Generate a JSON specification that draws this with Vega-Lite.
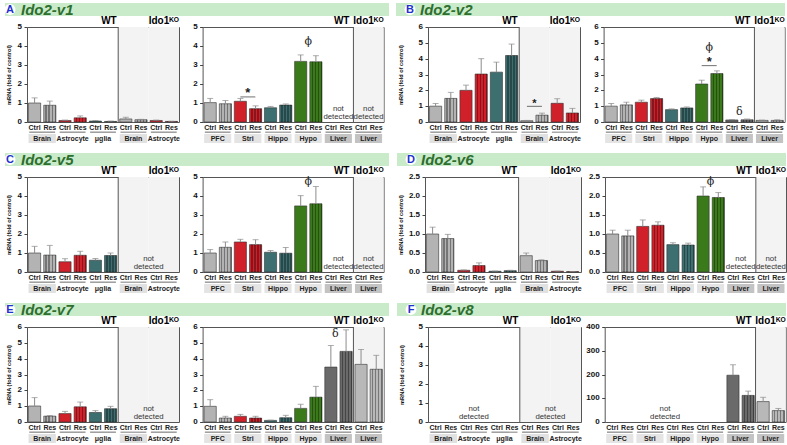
{
"$schema":"https://vega.github.io/schema/vega-lite/v6.json",
"padding":{"left":4,"top":2,"right":0,"bottom":0},
"config":{"font":"Liberation Sans","view":{"stroke":null},
 "axisY":{"tickCount":5,"labelOverlap":false,"tickSize":3,"tickColor":"#444","domain":false,"grid":false,"labelPadding":2,"titleFontSize":5.6,"titleFontWeight":"bold","titleColor":"#111"}},
"datasets":{
 "yl5":[{"g":"WT Brain","t":0},{"g":"WT Brain","t":1},{"g":"WT Brain","t":2},{"g":"WT Brain","t":3},{"g":"WT Brain","t":4},{"g":"WT Brain","t":5}],
 "yl6":[{"g":"WT Brain","t":0},{"g":"WT Brain","t":1},{"g":"WT Brain","t":2},{"g":"WT Brain","t":3},{"g":"WT Brain","t":4},{"g":"WT Brain","t":5},{"g":"WT Brain","t":6}],
 "yl25":[{"g":"WT Brain","t":0},{"g":"WT Brain","t":0.5},{"g":"WT Brain","t":1},{"g":"WT Brain","t":1.5},{"g":"WT Brain","t":2},{"g":"WT Brain","t":2.5}],
 "yr5":[{"g":"WT PFC","t":0},{"g":"WT PFC","t":1},{"g":"WT PFC","t":2},{"g":"WT PFC","t":3},{"g":"WT PFC","t":4},{"g":"WT PFC","t":5}],
 "yr6":[{"g":"WT PFC","t":0},{"g":"WT PFC","t":1},{"g":"WT PFC","t":2},{"g":"WT PFC","t":3},{"g":"WT PFC","t":4},{"g":"WT PFC","t":5},{"g":"WT PFC","t":6}],
 "yr25":[{"g":"WT PFC","t":0},{"g":"WT PFC","t":0.5},{"g":"WT PFC","t":1},{"g":"WT PFC","t":1.5},{"g":"WT PFC","t":2},{"g":"WT PFC","t":2.5}],
 "yr400":[{"g":"WT PFC","t":0},{"g":"WT PFC","t":100},{"g":"WT PFC","t":200},{"g":"WT PFC","t":300},{"g":"WT PFC","t":400}],
 "sl":[{"g":"WT Brain","t":"Brain","c":"Ctrl"},{"g":"WT Brain","t":"Brain","c":"Res"},{"g":"WT Astrocyte","t":"Astrocyte","c":"Ctrl"},{"g":"WT Astrocyte","t":"Astrocyte","c":"Res"},{"g":"WT μglia","t":"μglia","c":"Ctrl"},{"g":"WT μglia","t":"μglia","c":"Res"},{"g":"KO Brain","t":"Brain","c":"Ctrl"},{"g":"KO Brain","t":"Brain","c":"Res"},{"g":"KO Astrocyte","t":"Astrocyte","c":"Ctrl"},{"g":"KO Astrocyte","t":"Astrocyte","c":"Res"}],
 "sr":[{"g":"WT PFC","t":"PFC","c":"Ctrl"},{"g":"WT PFC","t":"PFC","c":"Res"},{"g":"WT Stri","t":"Stri","c":"Ctrl"},{"g":"WT Stri","t":"Stri","c":"Res"},{"g":"WT Hippo","t":"Hippo","c":"Ctrl"},{"g":"WT Hippo","t":"Hippo","c":"Res"},{"g":"WT Hypo","t":"Hypo","c":"Ctrl"},{"g":"WT Hypo","t":"Hypo","c":"Res"},{"g":"WT Liver","t":"Liver","c":"Ctrl"},{"g":"WT Liver","t":"Liver","c":"Res"},{"g":"KO Liver","t":"Liver","c":"Ctrl"},{"g":"KO Liver","t":"Liver","c":"Res"}],
 "a1":[{"g":"WT Brain","c":"Ctrl","v":1.0,"hi":1.27},{"g":"WT Brain","c":"Res","v":0.88,"hi":1.1},{"g":"WT Astrocyte","c":"Ctrl","v":0.08,"hi":0.1},{"g":"WT Astrocyte","c":"Res","v":0.22,"hi":0.32},{"g":"WT μglia","c":"Ctrl","v":0.05,"hi":0.08},{"g":"WT μglia","c":"Res","v":0.03,"hi":0.05},{"g":"KO Brain","c":"Ctrl","v":0.16,"hi":0.25},{"g":"KO Brain","c":"Res","v":0.12,"hi":0.14},{"g":"KO Astrocyte","c":"Ctrl","v":0.08,"hi":0.1},{"g":"KO Astrocyte","c":"Res","v":0.03,"hi":0.04}],
 "a2":[{"g":"WT PFC","c":"Ctrl","v":1.02,"hi":1.24},{"g":"WT PFC","c":"Res","v":0.96,"hi":1.13},{"g":"WT Stri","c":"Ctrl","v":1.09,"hi":1.24},{"g":"WT Stri","c":"Res","v":0.7,"hi":0.85},{"g":"WT Hippo","c":"Ctrl","v":0.75,"hi":0.82},{"g":"WT Hippo","c":"Res","v":0.89,"hi":0.95},{"g":"WT Hypo","c":"Ctrl","v":3.19,"hi":3.53},{"g":"WT Hypo","c":"Res","v":3.17,"hi":3.49}],
 "b1":[{"g":"WT Brain","c":"Ctrl","v":1.0,"hi":1.17},{"g":"WT Brain","c":"Res","v":1.49,"hi":1.87},{"g":"WT Astrocyte","c":"Ctrl","v":2.0,"hi":2.33},{"g":"WT Astrocyte","c":"Res","v":3.03,"hi":4.0},{"g":"WT μglia","c":"Ctrl","v":3.15,"hi":3.78},{"g":"WT μglia","c":"Res","v":4.2,"hi":4.92},{"g":"KO Brain","c":"Ctrl","v":0.08,"hi":0.1},{"g":"KO Brain","c":"Res","v":0.43,"hi":0.56},{"g":"KO Astrocyte","c":"Ctrl","v":1.18,"hi":1.47},{"g":"KO Astrocyte","c":"Res","v":0.57,"hi":0.86}],
 "b2":[{"g":"WT PFC","c":"Ctrl","v":1.0,"hi":1.17},{"g":"WT PFC","c":"Res","v":1.08,"hi":1.25},{"g":"WT Stri","c":"Ctrl","v":1.25,"hi":1.38},{"g":"WT Stri","c":"Res","v":1.48,"hi":1.55},{"g":"WT Hippo","c":"Ctrl","v":0.78,"hi":0.83},{"g":"WT Hippo","c":"Res","v":0.89,"hi":0.95},{"g":"WT Hypo","c":"Ctrl","v":2.4,"hi":2.64},{"g":"WT Hypo","c":"Res","v":3.06,"hi":3.23},{"g":"WT Liver","c":"Ctrl","v":0.13,"hi":0.15},{"g":"WT Liver","c":"Res","v":0.14,"hi":0.19},{"g":"KO Liver","c":"Ctrl","v":0.1,"hi":0.12},{"g":"KO Liver","c":"Res","v":0.1,"hi":0.14}],
 "c1":[{"g":"WT Brain","c":"Ctrl","v":1.0,"hi":1.35},{"g":"WT Brain","c":"Res","v":0.89,"hi":1.4},{"g":"WT Astrocyte","c":"Ctrl","v":0.54,"hi":0.7},{"g":"WT Astrocyte","c":"Res","v":0.88,"hi":1.09},{"g":"WT μglia","c":"Ctrl","v":0.62,"hi":0.71},{"g":"WT μglia","c":"Res","v":0.87,"hi":1.0}],
 "c2":[{"g":"WT PFC","c":"Ctrl","v":1.0,"hi":1.18},{"g":"WT PFC","c":"Res","v":1.3,"hi":1.58},{"g":"WT Stri","c":"Ctrl","v":1.58,"hi":1.72},{"g":"WT Stri","c":"Res","v":1.44,"hi":1.7},{"g":"WT Hippo","c":"Ctrl","v":1.04,"hi":1.13},{"g":"WT Hippo","c":"Res","v":0.99,"hi":1.29},{"g":"WT Hypo","c":"Ctrl","v":3.48,"hi":4.02},{"g":"WT Hypo","c":"Res","v":3.59,"hi":4.5}],
 "d1":[{"g":"WT Brain","c":"Ctrl","v":1.0,"hi":1.18},{"g":"WT Brain","c":"Res","v":0.88,"hi":0.99},{"g":"WT Astrocyte","c":"Ctrl","v":0.045,"hi":0.055},{"g":"WT Astrocyte","c":"Res","v":0.17,"hi":0.24},{"g":"WT μglia","c":"Ctrl","v":0.02,"hi":0.025},{"g":"WT μglia","c":"Res","v":0.035,"hi":0.045},{"g":"KO Brain","c":"Ctrl","v":0.43,"hi":0.5},{"g":"KO Brain","c":"Res","v":0.3,"hi":0.32},{"g":"KO Astrocyte","c":"Ctrl","v":0.02,"hi":0.025},{"g":"KO Astrocyte","c":"Res","v":0.01,"hi":0.012}],
 "d2":[{"g":"WT PFC","c":"Ctrl","v":1.0,"hi":1.1},{"g":"WT PFC","c":"Res","v":0.95,"hi":1.1},{"g":"WT Stri","c":"Ctrl","v":1.2,"hi":1.37},{"g":"WT Stri","c":"Res","v":1.23,"hi":1.32},{"g":"WT Hippo","c":"Ctrl","v":0.72,"hi":0.77},{"g":"WT Hippo","c":"Res","v":0.71,"hi":0.76},{"g":"WT Hypo","c":"Ctrl","v":2.0,"hi":2.24},{"g":"WT Hypo","c":"Res","v":1.96,"hi":2.09}],
 "e1":[{"g":"WT Brain","c":"Ctrl","v":1.01,"hi":1.54},{"g":"WT Brain","c":"Res","v":0.37,"hi":0.41},{"g":"WT Astrocyte","c":"Ctrl","v":0.53,"hi":0.67},{"g":"WT Astrocyte","c":"Res","v":0.96,"hi":1.26},{"g":"WT μglia","c":"Ctrl","v":0.6,"hi":0.72},{"g":"WT μglia","c":"Res","v":0.84,"hi":0.99}],
 "e2":[{"g":"WT PFC","c":"Ctrl","v":0.99,"hi":1.41},{"g":"WT PFC","c":"Res","v":0.25,"hi":0.36},{"g":"WT Stri","c":"Ctrl","v":0.36,"hi":0.48},{"g":"WT Stri","c":"Res","v":0.25,"hi":0.36},{"g":"WT Hippo","c":"Ctrl","v":0.1,"hi":0.12},{"g":"WT Hippo","c":"Res","v":0.27,"hi":0.42},{"g":"WT Hypo","c":"Ctrl","v":0.86,"hi":1.12},{"g":"WT Hypo","c":"Res","v":1.57,"hi":2.25},{"g":"WT Liver","c":"Ctrl","v":3.47,"hi":4.83},{"g":"WT Liver","c":"Res","v":4.46,"hi":5.82},{"g":"KO Liver","c":"Ctrl","v":3.64,"hi":4.58},{"g":"KO Liver","c":"Res","v":3.33,"hi":4.21}],
 "f2":[{"g":"WT Liver","c":"Ctrl","v":197,"hi":241},{"g":"WT Liver","c":"Res","v":112,"hi":130},{"g":"KO Liver","c":"Ctrl","v":86,"hi":104},{"g":"KO Liver","c":"Res","v":48,"hi":57}]
},
"bounds":"full","spacing":8,
"vconcat":[
{"hconcat":[
 {"vconcat":[
  {"width":362,"height":13,"data":{"values":[{"l":"A","n":"Ido2-v1"}]},"encoding":{"x":{"datum":0,"type":"quantitative","scale":{"domain":[0,1]},"axis":null},"y":{"datum":0.5,"type":"quantitative","scale":{"domain":[0,1]},"axis":null}},
   "layer":[{"mark":{"type":"rect","color":"#c9ebc9"},"encoding":{"x":{"datum":-0.0608,"type":"quantitative","axis":null},"x2":{"datum":1},"y":{"datum":0,"type":"quantitative","axis":null},"y2":{"datum":1}}},{"mark":{"type":"point","shape":"circle","filled":true,"color":"white","opacity":1,"size":120},"encoding":{"x":{"datum":-0.047,"type":"quantitative","axis":null}}},{"mark":{"type":"text","color":"#1f32d0","fontSize":11,"fontWeight":"bold","dx":-17},"encoding":{"text":{"field":"l"}}},{"mark":{"type":"text","align":"left","color":"#2e6e2e","fontSize":15,"fontWeight":"bold","fontStyle":"italic","dx":-6},"encoding":{"text":{"field":"n"}}}]},
  {"hconcat":[
   {"vconcat":[
    {"width":152,"height":95,"view":{"stroke":"#555"},"encoding":{"x":{"field":"g","type":"nominal","scale":{"domain":["WT Brain","WT Astrocyte","WT μglia","KO Brain","KO Astrocyte"],"paddingInner":0,"paddingOuter":0},"axis":null}},
     "layer":[
      {"data":{"values":[{"g":"KO Brain"},{"g":"KO Astrocyte"}]},"mark":{"type":"rect","color":"#f3f3f3"},"encoding":{"y":{"datum":0,"type":"quantitative","scale":{"domain":[0,5],"nice":false},"axis":{"labels":false,"title":"mRNA (fold of control)","titlePadding":12.5}},"y2":{"datum":5}}},
      {"data":{"name":"yl5"},"mark":{"type":"text","align":"right","baseline":"middle","dx":-5,"fontSize":8,"fontWeight":"bold","fill":"#111"},"encoding":{"x":{"field":"g","type":"nominal","bandPosition":0,"axis":null},"y":{"field":"t","type":"quantitative"},"text":{"field":"t","type":"quantitative"}}},
      {"data":{"values":[{"g":"KO Brain"}]},"mark":{"type":"rule","color":"#555"},"encoding":{"x":{"field":"g","type":"nominal","bandPosition":0,"axis":null},"y":{"datum":0,"type":"quantitative"},"y2":{"datum":5}}},
      {"data":{"name":"a1"},"mark":{"type":"bar","stroke":"#333","strokeWidth":0.6},"encoding":{"xOffset":{"field":"c","type":"nominal","scale":{"paddingInner":0.2,"paddingOuter":0.1}},"y":{"field":"v","type":"quantitative"},"color":{"field":"g","type":"nominal","scale":{"domain":["WT Brain","WT Astrocyte","WT μglia","KO Brain","KO Astrocyte","WT PFC","WT Stri","WT Hippo","WT Hypo","WT Liver","KO Liver"],"range":["#b3b3b3","#d0202a","#3d6f70","#b3b3b3","#d0202a","#b3b3b3","#d0202a","#3d6f70","#3b7a1a","#6a6a6a","#b8b8b8"]},"legend":null}}},
      {"data":{"name":"a1"},"transform":[{"filter":"datum.c=='Res'"}],"mark":{"type":"bar","fill":{"gradient":"linear","x1":0,"y1":0,"x2":1,"y2":0,"stops":[{"offset":0,"color":"rgba(0,0,0,0)"},{"offset":0.14,"color":"rgba(0,0,0,0)"},{"offset":0.14,"color":"rgba(0,0,0,0.35)"},{"offset":0.25,"color":"rgba(0,0,0,0.35)"},{"offset":0.25,"color":"rgba(0,0,0,0)"},{"offset":0.39,"color":"rgba(0,0,0,0)"},{"offset":0.39,"color":"rgba(0,0,0,0.35)"},{"offset":0.5,"color":"rgba(0,0,0,0.35)"},{"offset":0.5,"color":"rgba(0,0,0,0)"},{"offset":0.64,"color":"rgba(0,0,0,0)"},{"offset":0.64,"color":"rgba(0,0,0,0.35)"},{"offset":0.75,"color":"rgba(0,0,0,0.35)"},{"offset":0.75,"color":"rgba(0,0,0,0)"},{"offset":0.89,"color":"rgba(0,0,0,0)"},{"offset":0.89,"color":"rgba(0,0,0,0.35)"},{"offset":1,"color":"rgba(0,0,0,0.35)"}]}},"encoding":{"xOffset":{"field":"c","type":"nominal"},"y":{"field":"v","type":"quantitative"}}},
      {"data":{"name":"a1"},"mark":{"type":"rule","color":"#8c8c8c"},"encoding":{"xOffset":{"field":"c","type":"nominal"},"y":{"field":"v","type":"quantitative"},"y2":{"field":"hi"}}},
      {"data":{"name":"a1"},"mark":{"type":"tick","color":"#8c8c8c","size":6,"thickness":1},"encoding":{"xOffset":{"field":"c","type":"nominal"},"y":{"field":"hi","type":"quantitative"}}},
      {"data":{"values":[{"g":"WT μglia"}]},"mark":{"type":"text","text":"WT","align":"right","baseline":"bottom","dx":-1.5,"dy":-1,"fontSize":10,"fontWeight":"bold","color":"#000"},"encoding":{"x":{"field":"g","type":"nominal","bandPosition":1,"axis":null},"y":{"datum":5,"type":"quantitative"}}},
      {"data":{"values":[{"g":"KO Astrocyte"}]},"mark":{"type":"text","text":"Ido1ᴷᴼ","align":"right","baseline":"bottom","dy":-1,"fontSize":10,"fontWeight":"bold","color":"#000"},"encoding":{"x":{"field":"g","type":"nominal","bandPosition":1,"axis":null},"y":{"datum":5,"type":"quantitative"}}}]},
    {"width":152,"height":22,"data":{"name":"sl"},"encoding":{"x":{"field":"g","type":"nominal","scale":{"domain":["WT Brain","WT Astrocyte","WT μglia","KO Brain","KO Astrocyte"],"paddingInner":0,"paddingOuter":0},"axis":null}},
     "layer":[
      {"transform":[{"filter":"datum.c=='Ctrl'"}],"mark":{"type":"bar","width":{"band":0.9}},"encoding":{"y":{"datum":0.455,"type":"quantitative","scale":{"domain":[0,1]},"axis":null},"y2":{"datum":0.045},"fill":{"field":"g","type":"nominal","scale":{"domain":["WT Brain","WT Astrocyte","WT μglia","KO Brain","KO Astrocyte","WT PFC","WT Stri","WT Hippo","WT Hypo","WT Liver","KO Liver"],"range":["#e1e1e1","#ffffff","#ffffff","#e1e1e1","#ffffff","#e4e4e4","#e4e4e4","#e4e4e4","#e4e4e4","#c3c3c3","#c3c3c3"]},"legend":null}}},
      {"transform":[{"filter":"datum.c=='Ctrl'"}],"mark":{"type":"bar","width":{"band":0.85},"color":"#555"},"encoding":{"y":{"datum":0.56,"type":"quantitative","axis":null},"y2":{"datum":0.52}}},
      {"mark":{"type":"text","fontSize":7,"fontWeight":"bold","color":"#222"},"encoding":{"xOffset":{"field":"c","type":"nominal","scale":{"paddingInner":0.2,"paddingOuter":0.1}},"y":{"datum":0.74,"type":"quantitative","axis":null},"text":{"field":"c"}}},
      {"transform":[{"filter":"datum.c=='Ctrl'"}],"mark":{"type":"text","fontSize":7,"fontWeight":"bold","color":"#222"},"encoding":{"y":{"datum":0.24,"type":"quantitative","axis":null},"text":{"field":"t"}}}]}
   ],"spacing":0,"bounds":"flush"},
   {"vconcat":[
    {"width":181,"height":95,"view":{"stroke":"#555"},"encoding":{"x":{"field":"g","type":"nominal","scale":{"domain":["WT PFC","WT Stri","WT Hippo","WT Hypo","WT Liver","KO Liver"],"paddingInner":0,"paddingOuter":0},"axis":null}},
     "layer":[
      {"data":{"values":[{"g":"KO Liver"}]},"mark":{"type":"rect","color":"#f3f3f3"},"encoding":{"y":{"datum":0,"type":"quantitative","scale":{"domain":[0,5],"nice":false},"axis":{"labels":false,"title":null}},"y2":{"datum":5}}},
      {"data":{"name":"yr5"},"mark":{"type":"text","align":"right","baseline":"middle","dx":-5,"fontSize":8,"fontWeight":"bold","fill":"#111"},"encoding":{"x":{"field":"g","type":"nominal","bandPosition":0,"axis":null},"y":{"field":"t","type":"quantitative"},"text":{"field":"t","type":"quantitative"}}},
      {"data":{"values":[{"g":"KO Liver"}]},"mark":{"type":"rule","color":"#555"},"encoding":{"x":{"field":"g","type":"nominal","bandPosition":0,"axis":null},"y":{"datum":0,"type":"quantitative"},"y2":{"datum":5}}},
      {"data":{"name":"a2"},"mark":{"type":"bar","stroke":"#333","strokeWidth":0.6},"encoding":{"xOffset":{"field":"c","type":"nominal","scale":{"paddingInner":0.2,"paddingOuter":0.1}},"y":{"field":"v","type":"quantitative"},"color":{"field":"g","type":"nominal","scale":{"domain":["WT Brain","WT Astrocyte","WT μglia","KO Brain","KO Astrocyte","WT PFC","WT Stri","WT Hippo","WT Hypo","WT Liver","KO Liver"],"range":["#b3b3b3","#d0202a","#3d6f70","#b3b3b3","#d0202a","#b3b3b3","#d0202a","#3d6f70","#3b7a1a","#6a6a6a","#b8b8b8"]},"legend":null}}},
      {"data":{"name":"a2"},"transform":[{"filter":"datum.c=='Res'"}],"mark":{"type":"bar","fill":{"gradient":"linear","x1":0,"y1":0,"x2":1,"y2":0,"stops":[{"offset":0,"color":"rgba(0,0,0,0)"},{"offset":0.14,"color":"rgba(0,0,0,0)"},{"offset":0.14,"color":"rgba(0,0,0,0.35)"},{"offset":0.25,"color":"rgba(0,0,0,0.35)"},{"offset":0.25,"color":"rgba(0,0,0,0)"},{"offset":0.39,"color":"rgba(0,0,0,0)"},{"offset":0.39,"color":"rgba(0,0,0,0.35)"},{"offset":0.5,"color":"rgba(0,0,0,0.35)"},{"offset":0.5,"color":"rgba(0,0,0,0)"},{"offset":0.64,"color":"rgba(0,0,0,0)"},{"offset":0.64,"color":"rgba(0,0,0,0.35)"},{"offset":0.75,"color":"rgba(0,0,0,0.35)"},{"offset":0.75,"color":"rgba(0,0,0,0)"},{"offset":0.89,"color":"rgba(0,0,0,0)"},{"offset":0.89,"color":"rgba(0,0,0,0.35)"},{"offset":1,"color":"rgba(0,0,0,0.35)"}]}},"encoding":{"xOffset":{"field":"c","type":"nominal"},"y":{"field":"v","type":"quantitative"}}},
      {"data":{"name":"a2"},"mark":{"type":"rule","color":"#8c8c8c"},"encoding":{"xOffset":{"field":"c","type":"nominal"},"y":{"field":"v","type":"quantitative"},"y2":{"field":"hi"}}},
      {"data":{"name":"a2"},"mark":{"type":"tick","color":"#8c8c8c","size":6,"thickness":1},"encoding":{"xOffset":{"field":"c","type":"nominal"},"y":{"field":"hi","type":"quantitative"}}},
      {"data":{"values":[{"g":"WT Stri","y":1.32}]},"mark":{"type":"tick","color":"#333","size":15,"thickness":1},"encoding":{"y":{"field":"y","type":"quantitative"}}},
      {"data":{"values":[{"g":"WT Stri","y":1.55,"s":"*"}]},"mark":{"type":"text","fontSize":13,"fontWeight":"bold","baseline":"middle","fill":"#222"},"encoding":{"y":{"field":"y","type":"quantitative"},"text":{"field":"s"}}},
      {"data":{"values":[{"g":"WT Hypo","y":4.2,"s":"ϕ"}]},"mark":{"type":"text","fontSize":11,"font":"DejaVu Serif","baseline":"middle","fill":"#222"},"encoding":{"y":{"field":"y","type":"quantitative"},"text":{"field":"s"}}},
      {"data":{"values":[{"g":"WT Liver"},{"g":"KO Liver"}]},"mark":{"type":"text","text":["not","detected"],"fontSize":7.8,"baseline":"bottom","dy":-9.5,"lineHeight":8.5,"fill":"#333"},"encoding":{"y":{"datum":0,"type":"quantitative"}}},
      {"data":{"values":[{"g":"WT Liver"}]},"mark":{"type":"text","text":"WT","align":"right","baseline":"bottom","dx":-4,"dy":-1,"fontSize":10,"fontWeight":"bold","color":"#000"},"encoding":{"x":{"field":"g","type":"nominal","bandPosition":1,"axis":null},"y":{"datum":5,"type":"quantitative"}}},
      {"data":{"values":[{"g":"KO Liver"}]},"mark":{"type":"text","text":"Ido1ᴷᴼ","align":"right","baseline":"bottom","dy":-1,"fontSize":10,"fontWeight":"bold","color":"#000"},"encoding":{"x":{"field":"g","type":"nominal","bandPosition":1,"axis":null},"y":{"datum":5,"type":"quantitative"}}}]},
    {"width":181,"height":22,"data":{"name":"sr"},"encoding":{"x":{"field":"g","type":"nominal","scale":{"domain":["WT PFC","WT Stri","WT Hippo","WT Hypo","WT Liver","KO Liver"],"paddingInner":0,"paddingOuter":0},"axis":null}},
     "layer":[
      {"transform":[{"filter":"datum.c=='Ctrl'"}],"mark":{"type":"bar","width":{"band":0.9}},"encoding":{"y":{"datum":0.455,"type":"quantitative","scale":{"domain":[0,1]},"axis":null},"y2":{"datum":0.045},"fill":{"field":"g","type":"nominal","scale":{"domain":["WT Brain","WT Astrocyte","WT μglia","KO Brain","KO Astrocyte","WT PFC","WT Stri","WT Hippo","WT Hypo","WT Liver","KO Liver"],"range":["#e1e1e1","#ffffff","#ffffff","#e1e1e1","#ffffff","#e4e4e4","#e4e4e4","#e4e4e4","#e4e4e4","#c3c3c3","#c3c3c3"]},"legend":null}}},
      {"transform":[{"filter":"datum.c=='Ctrl'"}],"mark":{"type":"bar","width":{"band":0.85},"color":"#555"},"encoding":{"y":{"datum":0.56,"type":"quantitative","axis":null},"y2":{"datum":0.52}}},
      {"mark":{"type":"text","fontSize":7,"fontWeight":"bold","color":"#222"},"encoding":{"xOffset":{"field":"c","type":"nominal","scale":{"paddingInner":0.2,"paddingOuter":0.1}},"y":{"datum":0.74,"type":"quantitative","axis":null},"text":{"field":"c"}}},
      {"transform":[{"filter":"datum.c=='Ctrl'"}],"mark":{"type":"text","fontSize":7,"fontWeight":"bold","color":"#222"},"encoding":{"y":{"datum":0.24,"type":"quantitative","axis":null},"text":{"field":"t"}}}]}
   ],"spacing":0,"bounds":"flush"}
  ],"spacing":12.6,"bounds":"full"}
 ],"spacing":-3,"bounds":"full"},
 {"vconcat":[
  {"width":357,"height":13,"data":{"values":[{"l":"B","n":"Ido2-v2"}]},"encoding":{"x":{"datum":0,"type":"quantitative","scale":{"domain":[0,1]},"axis":null},"y":{"datum":0.5,"type":"quantitative","scale":{"domain":[0,1]},"axis":null}},
   "layer":[{"mark":{"type":"rect","color":"#c9ebc9"},"encoding":{"x":{"datum":-0.0896,"type":"quantitative","axis":null},"x2":{"datum":1},"y":{"datum":0,"type":"quantitative","axis":null},"y2":{"datum":1}}},{"mark":{"type":"point","shape":"circle","filled":true,"color":"white","opacity":1,"size":120},"encoding":{"x":{"datum":-0.0504,"type":"quantitative","axis":null}}},{"mark":{"type":"text","color":"#1f32d0","fontSize":11,"fontWeight":"bold","dx":-18},"encoding":{"text":{"field":"l"}}},{"mark":{"type":"text","align":"left","color":"#2e6e2e","fontSize":15,"fontWeight":"bold","fontStyle":"italic","dx":-8},"encoding":{"text":{"field":"n"}}}]},
  {"hconcat":[
   {"vconcat":[
    {"width":152,"height":95,"view":{"stroke":"#555"},"encoding":{"x":{"field":"g","type":"nominal","scale":{"domain":["WT Brain","WT Astrocyte","WT μglia","KO Brain","KO Astrocyte"],"paddingInner":0,"paddingOuter":0},"axis":null}},
     "layer":[
      {"data":{"values":[{"g":"KO Brain"},{"g":"KO Astrocyte"}]},"mark":{"type":"rect","color":"#f3f3f3"},"encoding":{"y":{"datum":0,"type":"quantitative","scale":{"domain":[0,6],"nice":false},"axis":{"labels":false,"title":"mRNA (fold of control)","titlePadding":21.5}},"y2":{"datum":6}}},
      {"data":{"name":"yl6"},"mark":{"type":"text","align":"right","baseline":"middle","dx":-5,"fontSize":8,"fontWeight":"bold","fill":"#111"},"encoding":{"x":{"field":"g","type":"nominal","bandPosition":0,"axis":null},"y":{"field":"t","type":"quantitative"},"text":{"field":"t","type":"quantitative"}}},
      {"data":{"values":[{"g":"KO Brain"}]},"mark":{"type":"rule","color":"#555"},"encoding":{"x":{"field":"g","type":"nominal","bandPosition":0,"axis":null},"y":{"datum":0,"type":"quantitative"},"y2":{"datum":6}}},
      {"data":{"name":"b1"},"mark":{"type":"bar","stroke":"#333","strokeWidth":0.6},"encoding":{"xOffset":{"field":"c","type":"nominal","scale":{"paddingInner":0.2,"paddingOuter":0.1}},"y":{"field":"v","type":"quantitative"},"color":{"field":"g","type":"nominal","scale":{"domain":["WT Brain","WT Astrocyte","WT μglia","KO Brain","KO Astrocyte","WT PFC","WT Stri","WT Hippo","WT Hypo","WT Liver","KO Liver"],"range":["#b3b3b3","#d0202a","#3d6f70","#b3b3b3","#d0202a","#b3b3b3","#d0202a","#3d6f70","#3b7a1a","#6a6a6a","#b8b8b8"]},"legend":null}}},
      {"data":{"name":"b1"},"transform":[{"filter":"datum.c=='Res'"}],"mark":{"type":"bar","fill":{"gradient":"linear","x1":0,"y1":0,"x2":1,"y2":0,"stops":[{"offset":0,"color":"rgba(0,0,0,0)"},{"offset":0.14,"color":"rgba(0,0,0,0)"},{"offset":0.14,"color":"rgba(0,0,0,0.35)"},{"offset":0.25,"color":"rgba(0,0,0,0.35)"},{"offset":0.25,"color":"rgba(0,0,0,0)"},{"offset":0.39,"color":"rgba(0,0,0,0)"},{"offset":0.39,"color":"rgba(0,0,0,0.35)"},{"offset":0.5,"color":"rgba(0,0,0,0.35)"},{"offset":0.5,"color":"rgba(0,0,0,0)"},{"offset":0.64,"color":"rgba(0,0,0,0)"},{"offset":0.64,"color":"rgba(0,0,0,0.35)"},{"offset":0.75,"color":"rgba(0,0,0,0.35)"},{"offset":0.75,"color":"rgba(0,0,0,0)"},{"offset":0.89,"color":"rgba(0,0,0,0)"},{"offset":0.89,"color":"rgba(0,0,0,0.35)"},{"offset":1,"color":"rgba(0,0,0,0.35)"}]}},"encoding":{"xOffset":{"field":"c","type":"nominal"},"y":{"field":"v","type":"quantitative"}}},
      {"data":{"name":"b1"},"mark":{"type":"rule","color":"#8c8c8c"},"encoding":{"xOffset":{"field":"c","type":"nominal"},"y":{"field":"v","type":"quantitative"},"y2":{"field":"hi"}}},
      {"data":{"name":"b1"},"mark":{"type":"tick","color":"#8c8c8c","size":6,"thickness":1},"encoding":{"xOffset":{"field":"c","type":"nominal"},"y":{"field":"hi","type":"quantitative"}}},
      {"data":{"values":[{"g":"KO Brain","y":0.99}]},"mark":{"type":"tick","color":"#333","size":15,"thickness":1},"encoding":{"y":{"field":"y","type":"quantitative"}}},
      {"data":{"values":[{"g":"KO Brain","y":1.15,"s":"*"}]},"mark":{"type":"text","fontSize":11,"fontWeight":"bold","baseline":"middle","fill":"#222"},"encoding":{"y":{"field":"y","type":"quantitative"},"text":{"field":"s"}}},
      {"data":{"values":[{"g":"WT μglia"}]},"mark":{"type":"text","text":"WT","align":"right","baseline":"bottom","dx":-1.5,"dy":-1,"fontSize":10,"fontWeight":"bold","color":"#000"},"encoding":{"x":{"field":"g","type":"nominal","bandPosition":1,"axis":null},"y":{"datum":6,"type":"quantitative"}}},
      {"data":{"values":[{"g":"KO Astrocyte"}]},"mark":{"type":"text","text":"Ido1ᴷᴼ","align":"right","baseline":"bottom","dy":-1,"fontSize":10,"fontWeight":"bold","color":"#000"},"encoding":{"x":{"field":"g","type":"nominal","bandPosition":1,"axis":null},"y":{"datum":6,"type":"quantitative"}}}]},
    {"width":152,"height":22,"data":{"name":"sl"},"encoding":{"x":{"field":"g","type":"nominal","scale":{"domain":["WT Brain","WT Astrocyte","WT μglia","KO Brain","KO Astrocyte"],"paddingInner":0,"paddingOuter":0},"axis":null}},
     "layer":[
      {"transform":[{"filter":"datum.c=='Ctrl'"}],"mark":{"type":"bar","width":{"band":0.9}},"encoding":{"y":{"datum":0.455,"type":"quantitative","scale":{"domain":[0,1]},"axis":null},"y2":{"datum":0.045},"fill":{"field":"g","type":"nominal","scale":{"domain":["WT Brain","WT Astrocyte","WT μglia","KO Brain","KO Astrocyte","WT PFC","WT Stri","WT Hippo","WT Hypo","WT Liver","KO Liver"],"range":["#e1e1e1","#ffffff","#ffffff","#e1e1e1","#ffffff","#e4e4e4","#e4e4e4","#e4e4e4","#e4e4e4","#c3c3c3","#c3c3c3"]},"legend":null}}},
      {"transform":[{"filter":"datum.c=='Ctrl'"}],"mark":{"type":"bar","width":{"band":0.85},"color":"#555"},"encoding":{"y":{"datum":0.56,"type":"quantitative","axis":null},"y2":{"datum":0.52}}},
      {"mark":{"type":"text","fontSize":7,"fontWeight":"bold","color":"#222"},"encoding":{"xOffset":{"field":"c","type":"nominal","scale":{"paddingInner":0.2,"paddingOuter":0.1}},"y":{"datum":0.74,"type":"quantitative","axis":null},"text":{"field":"c"}}},
      {"transform":[{"filter":"datum.c=='Ctrl'"}],"mark":{"type":"text","fontSize":7,"fontWeight":"bold","color":"#222"},"encoding":{"y":{"datum":0.24,"type":"quantitative","axis":null},"text":{"field":"t"}}}]}
   ],"spacing":0,"bounds":"flush"},
   {"vconcat":[
    {"width":181,"height":95,"view":{"stroke":"#555"},"encoding":{"x":{"field":"g","type":"nominal","scale":{"domain":["WT PFC","WT Stri","WT Hippo","WT Hypo","WT Liver","KO Liver"],"paddingInner":0,"paddingOuter":0},"axis":null}},
     "layer":[
      {"data":{"values":[{"g":"KO Liver"}]},"mark":{"type":"rect","color":"#f3f3f3"},"encoding":{"y":{"datum":0,"type":"quantitative","scale":{"domain":[0,6],"nice":false},"axis":{"labels":false,"title":null}},"y2":{"datum":6}}},
      {"data":{"name":"yr6"},"mark":{"type":"text","align":"right","baseline":"middle","dx":-5,"fontSize":8,"fontWeight":"bold","fill":"#111"},"encoding":{"x":{"field":"g","type":"nominal","bandPosition":0,"axis":null},"y":{"field":"t","type":"quantitative"},"text":{"field":"t","type":"quantitative"}}},
      {"data":{"values":[{"g":"KO Liver"}]},"mark":{"type":"rule","color":"#555"},"encoding":{"x":{"field":"g","type":"nominal","bandPosition":0,"axis":null},"y":{"datum":0,"type":"quantitative"},"y2":{"datum":6}}},
      {"data":{"name":"b2"},"mark":{"type":"bar","stroke":"#333","strokeWidth":0.6},"encoding":{"xOffset":{"field":"c","type":"nominal","scale":{"paddingInner":0.2,"paddingOuter":0.1}},"y":{"field":"v","type":"quantitative"},"color":{"field":"g","type":"nominal","scale":{"domain":["WT Brain","WT Astrocyte","WT μglia","KO Brain","KO Astrocyte","WT PFC","WT Stri","WT Hippo","WT Hypo","WT Liver","KO Liver"],"range":["#b3b3b3","#d0202a","#3d6f70","#b3b3b3","#d0202a","#b3b3b3","#d0202a","#3d6f70","#3b7a1a","#6a6a6a","#b8b8b8"]},"legend":null}}},
      {"data":{"name":"b2"},"transform":[{"filter":"datum.c=='Res'"}],"mark":{"type":"bar","fill":{"gradient":"linear","x1":0,"y1":0,"x2":1,"y2":0,"stops":[{"offset":0,"color":"rgba(0,0,0,0)"},{"offset":0.14,"color":"rgba(0,0,0,0)"},{"offset":0.14,"color":"rgba(0,0,0,0.35)"},{"offset":0.25,"color":"rgba(0,0,0,0.35)"},{"offset":0.25,"color":"rgba(0,0,0,0)"},{"offset":0.39,"color":"rgba(0,0,0,0)"},{"offset":0.39,"color":"rgba(0,0,0,0.35)"},{"offset":0.5,"color":"rgba(0,0,0,0.35)"},{"offset":0.5,"color":"rgba(0,0,0,0)"},{"offset":0.64,"color":"rgba(0,0,0,0)"},{"offset":0.64,"color":"rgba(0,0,0,0.35)"},{"offset":0.75,"color":"rgba(0,0,0,0.35)"},{"offset":0.75,"color":"rgba(0,0,0,0)"},{"offset":0.89,"color":"rgba(0,0,0,0)"},{"offset":0.89,"color":"rgba(0,0,0,0.35)"},{"offset":1,"color":"rgba(0,0,0,0.35)"}]}},"encoding":{"xOffset":{"field":"c","type":"nominal"},"y":{"field":"v","type":"quantitative"}}},
      {"data":{"name":"b2"},"mark":{"type":"rule","color":"#8c8c8c"},"encoding":{"xOffset":{"field":"c","type":"nominal"},"y":{"field":"v","type":"quantitative"},"y2":{"field":"hi"}}},
      {"data":{"name":"b2"},"mark":{"type":"tick","color":"#8c8c8c","size":6,"thickness":1},"encoding":{"xOffset":{"field":"c","type":"nominal"},"y":{"field":"hi","type":"quantitative"}}},
      {"data":{"values":[{"g":"WT Hypo","y":3.56}]},"mark":{"type":"tick","color":"#333","size":15,"thickness":1},"encoding":{"y":{"field":"y","type":"quantitative"}}},
      {"data":{"values":[{"g":"WT Hypo","y":3.76,"s":"*"}]},"mark":{"type":"text","fontSize":13,"fontWeight":"bold","baseline":"middle","fill":"#222"},"encoding":{"y":{"field":"y","type":"quantitative"},"text":{"field":"s"}}},
      {"data":{"values":[{"g":"WT Hypo","y":4.66,"s":"ϕ"},{"g":"WT Liver","y":0.62,"s":"δ"}]},"mark":{"type":"text","fontSize":11,"font":"DejaVu Serif","baseline":"middle","fill":"#222"},"encoding":{"y":{"field":"y","type":"quantitative"},"text":{"field":"s"}}},
      {"data":{"values":[{"g":"WT Liver"}]},"mark":{"type":"text","text":"WT","align":"right","baseline":"bottom","dx":-4,"dy":-1,"fontSize":10,"fontWeight":"bold","color":"#000"},"encoding":{"x":{"field":"g","type":"nominal","bandPosition":1,"axis":null},"y":{"datum":6,"type":"quantitative"}}},
      {"data":{"values":[{"g":"KO Liver"}]},"mark":{"type":"text","text":"Ido1ᴷᴼ","align":"right","baseline":"bottom","dy":-1,"fontSize":10,"fontWeight":"bold","color":"#000"},"encoding":{"x":{"field":"g","type":"nominal","bandPosition":1,"axis":null},"y":{"datum":6,"type":"quantitative"}}}]},
    {"width":181,"height":22,"data":{"name":"sr"},"encoding":{"x":{"field":"g","type":"nominal","scale":{"domain":["WT PFC","WT Stri","WT Hippo","WT Hypo","WT Liver","KO Liver"],"paddingInner":0,"paddingOuter":0},"axis":null}},
     "layer":[
      {"transform":[{"filter":"datum.c=='Ctrl'"}],"mark":{"type":"bar","width":{"band":0.9}},"encoding":{"y":{"datum":0.455,"type":"quantitative","scale":{"domain":[0,1]},"axis":null},"y2":{"datum":0.045},"fill":{"field":"g","type":"nominal","scale":{"domain":["WT Brain","WT Astrocyte","WT μglia","KO Brain","KO Astrocyte","WT PFC","WT Stri","WT Hippo","WT Hypo","WT Liver","KO Liver"],"range":["#e1e1e1","#ffffff","#ffffff","#e1e1e1","#ffffff","#e4e4e4","#e4e4e4","#e4e4e4","#e4e4e4","#c3c3c3","#c3c3c3"]},"legend":null}}},
      {"transform":[{"filter":"datum.c=='Ctrl'"}],"mark":{"type":"bar","width":{"band":0.85},"color":"#555"},"encoding":{"y":{"datum":0.56,"type":"quantitative","axis":null},"y2":{"datum":0.52}}},
      {"mark":{"type":"text","fontSize":7,"fontWeight":"bold","color":"#222"},"encoding":{"xOffset":{"field":"c","type":"nominal","scale":{"paddingInner":0.2,"paddingOuter":0.1}},"y":{"datum":0.74,"type":"quantitative","axis":null},"text":{"field":"c"}}},
      {"transform":[{"filter":"datum.c=='Ctrl'"}],"mark":{"type":"text","fontSize":7,"fontWeight":"bold","color":"#222"},"encoding":{"y":{"datum":0.24,"type":"quantitative","axis":null},"text":{"field":"t"}}}]}
   ],"spacing":0,"bounds":"flush"}
  ],"spacing":12.6,"bounds":"full"}
 ],"spacing":-3,"bounds":"full"}
],"spacing":7,"bounds":"full"},
{"hconcat":[
 {"vconcat":[
  {"width":362,"height":13,"data":{"values":[{"l":"C","n":"Ido2-v5"}]},"encoding":{"x":{"datum":0,"type":"quantitative","scale":{"domain":[0,1]},"axis":null},"y":{"datum":0.5,"type":"quantitative","scale":{"domain":[0,1]},"axis":null}},
   "layer":[{"mark":{"type":"rect","color":"#c9ebc9"},"encoding":{"x":{"datum":-0.0608,"type":"quantitative","axis":null},"x2":{"datum":1},"y":{"datum":0,"type":"quantitative","axis":null},"y2":{"datum":1}}},{"mark":{"type":"point","shape":"circle","filled":true,"color":"white","opacity":1,"size":120},"encoding":{"x":{"datum":-0.047,"type":"quantitative","axis":null}}},{"mark":{"type":"text","color":"#1f32d0","fontSize":11,"fontWeight":"bold","dx":-17},"encoding":{"text":{"field":"l"}}},{"mark":{"type":"text","align":"left","color":"#2e6e2e","fontSize":15,"fontWeight":"bold","fontStyle":"italic","dx":-6},"encoding":{"text":{"field":"n"}}}]},
  {"hconcat":[
   {"vconcat":[
    {"width":152,"height":95,"view":{"stroke":"#555"},"encoding":{"x":{"field":"g","type":"nominal","scale":{"domain":["WT Brain","WT Astrocyte","WT μglia","KO Brain","KO Astrocyte"],"paddingInner":0,"paddingOuter":0},"axis":null}},
     "layer":[
      {"data":{"values":[{"g":"KO Brain"},{"g":"KO Astrocyte"}]},"mark":{"type":"rect","color":"#f3f3f3"},"encoding":{"y":{"datum":0,"type":"quantitative","scale":{"domain":[0,5],"nice":false},"axis":{"labels":false,"title":"mRNA (fold of control)","titlePadding":12.5}},"y2":{"datum":5}}},
      {"data":{"name":"yl5"},"mark":{"type":"text","align":"right","baseline":"middle","dx":-5,"fontSize":8,"fontWeight":"bold","fill":"#111"},"encoding":{"x":{"field":"g","type":"nominal","bandPosition":0,"axis":null},"y":{"field":"t","type":"quantitative"},"text":{"field":"t","type":"quantitative"}}},
      {"data":{"values":[{"g":"KO Brain"}]},"mark":{"type":"rule","color":"#555"},"encoding":{"x":{"field":"g","type":"nominal","bandPosition":0,"axis":null},"y":{"datum":0,"type":"quantitative"},"y2":{"datum":5}}},
      {"data":{"name":"c1"},"mark":{"type":"bar","stroke":"#333","strokeWidth":0.6},"encoding":{"xOffset":{"field":"c","type":"nominal","scale":{"paddingInner":0.2,"paddingOuter":0.1}},"y":{"field":"v","type":"quantitative"},"color":{"field":"g","type":"nominal","scale":{"domain":["WT Brain","WT Astrocyte","WT μglia","KO Brain","KO Astrocyte","WT PFC","WT Stri","WT Hippo","WT Hypo","WT Liver","KO Liver"],"range":["#b3b3b3","#d0202a","#3d6f70","#b3b3b3","#d0202a","#b3b3b3","#d0202a","#3d6f70","#3b7a1a","#6a6a6a","#b8b8b8"]},"legend":null}}},
      {"data":{"name":"c1"},"transform":[{"filter":"datum.c=='Res'"}],"mark":{"type":"bar","fill":{"gradient":"linear","x1":0,"y1":0,"x2":1,"y2":0,"stops":[{"offset":0,"color":"rgba(0,0,0,0)"},{"offset":0.14,"color":"rgba(0,0,0,0)"},{"offset":0.14,"color":"rgba(0,0,0,0.35)"},{"offset":0.25,"color":"rgba(0,0,0,0.35)"},{"offset":0.25,"color":"rgba(0,0,0,0)"},{"offset":0.39,"color":"rgba(0,0,0,0)"},{"offset":0.39,"color":"rgba(0,0,0,0.35)"},{"offset":0.5,"color":"rgba(0,0,0,0.35)"},{"offset":0.5,"color":"rgba(0,0,0,0)"},{"offset":0.64,"color":"rgba(0,0,0,0)"},{"offset":0.64,"color":"rgba(0,0,0,0.35)"},{"offset":0.75,"color":"rgba(0,0,0,0.35)"},{"offset":0.75,"color":"rgba(0,0,0,0)"},{"offset":0.89,"color":"rgba(0,0,0,0)"},{"offset":0.89,"color":"rgba(0,0,0,0.35)"},{"offset":1,"color":"rgba(0,0,0,0.35)"}]}},"encoding":{"xOffset":{"field":"c","type":"nominal"},"y":{"field":"v","type":"quantitative"}}},
      {"data":{"name":"c1"},"mark":{"type":"rule","color":"#8c8c8c"},"encoding":{"xOffset":{"field":"c","type":"nominal"},"y":{"field":"v","type":"quantitative"},"y2":{"field":"hi"}}},
      {"data":{"name":"c1"},"mark":{"type":"tick","color":"#8c8c8c","size":6,"thickness":1},"encoding":{"xOffset":{"field":"c","type":"nominal"},"y":{"field":"hi","type":"quantitative"}}},
      {"data":{"values":[{"g":"KO Astrocyte"}]},"mark":{"type":"text","text":["not","detected"],"fontSize":7.8,"baseline":"bottom","dy":-9.5,"lineHeight":8.5,"fill":"#333"},"encoding":{"x":{"field":"g","type":"nominal","bandPosition":0,"axis":null},"y":{"datum":0,"type":"quantitative"}}},
      {"data":{"values":[{"g":"WT μglia"}]},"mark":{"type":"text","text":"WT","align":"right","baseline":"bottom","dx":-1.5,"dy":-1,"fontSize":10,"fontWeight":"bold","color":"#000"},"encoding":{"x":{"field":"g","type":"nominal","bandPosition":1,"axis":null},"y":{"datum":5,"type":"quantitative"}}},
      {"data":{"values":[{"g":"KO Astrocyte"}]},"mark":{"type":"text","text":"Ido1ᴷᴼ","align":"right","baseline":"bottom","dy":-1,"fontSize":10,"fontWeight":"bold","color":"#000"},"encoding":{"x":{"field":"g","type":"nominal","bandPosition":1,"axis":null},"y":{"datum":5,"type":"quantitative"}}}]},
    {"width":152,"height":22,"data":{"name":"sl"},"encoding":{"x":{"field":"g","type":"nominal","scale":{"domain":["WT Brain","WT Astrocyte","WT μglia","KO Brain","KO Astrocyte"],"paddingInner":0,"paddingOuter":0},"axis":null}},
     "layer":[
      {"transform":[{"filter":"datum.c=='Ctrl'"}],"mark":{"type":"bar","width":{"band":0.9}},"encoding":{"y":{"datum":0.455,"type":"quantitative","scale":{"domain":[0,1]},"axis":null},"y2":{"datum":0.045},"fill":{"field":"g","type":"nominal","scale":{"domain":["WT Brain","WT Astrocyte","WT μglia","KO Brain","KO Astrocyte","WT PFC","WT Stri","WT Hippo","WT Hypo","WT Liver","KO Liver"],"range":["#e1e1e1","#ffffff","#ffffff","#e1e1e1","#ffffff","#e4e4e4","#e4e4e4","#e4e4e4","#e4e4e4","#c3c3c3","#c3c3c3"]},"legend":null}}},
      {"transform":[{"filter":"datum.c=='Ctrl'"}],"mark":{"type":"bar","width":{"band":0.85},"color":"#555"},"encoding":{"y":{"datum":0.56,"type":"quantitative","axis":null},"y2":{"datum":0.52}}},
      {"mark":{"type":"text","fontSize":7,"fontWeight":"bold","color":"#222"},"encoding":{"xOffset":{"field":"c","type":"nominal","scale":{"paddingInner":0.2,"paddingOuter":0.1}},"y":{"datum":0.74,"type":"quantitative","axis":null},"text":{"field":"c"}}},
      {"transform":[{"filter":"datum.c=='Ctrl'"}],"mark":{"type":"text","fontSize":7,"fontWeight":"bold","color":"#222"},"encoding":{"y":{"datum":0.24,"type":"quantitative","axis":null},"text":{"field":"t"}}}]}
   ],"spacing":0,"bounds":"flush"},
   {"vconcat":[
    {"width":181,"height":95,"view":{"stroke":"#555"},"encoding":{"x":{"field":"g","type":"nominal","scale":{"domain":["WT PFC","WT Stri","WT Hippo","WT Hypo","WT Liver","KO Liver"],"paddingInner":0,"paddingOuter":0},"axis":null}},
     "layer":[
      {"data":{"values":[{"g":"KO Liver"}]},"mark":{"type":"rect","color":"#f3f3f3"},"encoding":{"y":{"datum":0,"type":"quantitative","scale":{"domain":[0,5],"nice":false},"axis":{"labels":false,"title":null}},"y2":{"datum":5}}},
      {"data":{"name":"yr5"},"mark":{"type":"text","align":"right","baseline":"middle","dx":-5,"fontSize":8,"fontWeight":"bold","fill":"#111"},"encoding":{"x":{"field":"g","type":"nominal","bandPosition":0,"axis":null},"y":{"field":"t","type":"quantitative"},"text":{"field":"t","type":"quantitative"}}},
      {"data":{"values":[{"g":"KO Liver"}]},"mark":{"type":"rule","color":"#555"},"encoding":{"x":{"field":"g","type":"nominal","bandPosition":0,"axis":null},"y":{"datum":0,"type":"quantitative"},"y2":{"datum":5}}},
      {"data":{"name":"c2"},"mark":{"type":"bar","stroke":"#333","strokeWidth":0.6},"encoding":{"xOffset":{"field":"c","type":"nominal","scale":{"paddingInner":0.2,"paddingOuter":0.1}},"y":{"field":"v","type":"quantitative"},"color":{"field":"g","type":"nominal","scale":{"domain":["WT Brain","WT Astrocyte","WT μglia","KO Brain","KO Astrocyte","WT PFC","WT Stri","WT Hippo","WT Hypo","WT Liver","KO Liver"],"range":["#b3b3b3","#d0202a","#3d6f70","#b3b3b3","#d0202a","#b3b3b3","#d0202a","#3d6f70","#3b7a1a","#6a6a6a","#b8b8b8"]},"legend":null}}},
      {"data":{"name":"c2"},"transform":[{"filter":"datum.c=='Res'"}],"mark":{"type":"bar","fill":{"gradient":"linear","x1":0,"y1":0,"x2":1,"y2":0,"stops":[{"offset":0,"color":"rgba(0,0,0,0)"},{"offset":0.14,"color":"rgba(0,0,0,0)"},{"offset":0.14,"color":"rgba(0,0,0,0.35)"},{"offset":0.25,"color":"rgba(0,0,0,0.35)"},{"offset":0.25,"color":"rgba(0,0,0,0)"},{"offset":0.39,"color":"rgba(0,0,0,0)"},{"offset":0.39,"color":"rgba(0,0,0,0.35)"},{"offset":0.5,"color":"rgba(0,0,0,0.35)"},{"offset":0.5,"color":"rgba(0,0,0,0)"},{"offset":0.64,"color":"rgba(0,0,0,0)"},{"offset":0.64,"color":"rgba(0,0,0,0.35)"},{"offset":0.75,"color":"rgba(0,0,0,0.35)"},{"offset":0.75,"color":"rgba(0,0,0,0)"},{"offset":0.89,"color":"rgba(0,0,0,0)"},{"offset":0.89,"color":"rgba(0,0,0,0.35)"},{"offset":1,"color":"rgba(0,0,0,0.35)"}]}},"encoding":{"xOffset":{"field":"c","type":"nominal"},"y":{"field":"v","type":"quantitative"}}},
      {"data":{"name":"c2"},"mark":{"type":"rule","color":"#8c8c8c"},"encoding":{"xOffset":{"field":"c","type":"nominal"},"y":{"field":"v","type":"quantitative"},"y2":{"field":"hi"}}},
      {"data":{"name":"c2"},"mark":{"type":"tick","color":"#8c8c8c","size":6,"thickness":1},"encoding":{"xOffset":{"field":"c","type":"nominal"},"y":{"field":"hi","type":"quantitative"}}},
      {"data":{"values":[{"g":"WT Hypo","y":4.72,"s":"ϕ"}]},"mark":{"type":"text","fontSize":11,"font":"DejaVu Serif","baseline":"middle","fill":"#222"},"encoding":{"y":{"field":"y","type":"quantitative"},"text":{"field":"s"}}},
      {"data":{"values":[{"g":"WT Liver"},{"g":"KO Liver"}]},"mark":{"type":"text","text":["not","detected"],"fontSize":7.8,"baseline":"bottom","dy":-9.5,"lineHeight":8.5,"fill":"#333"},"encoding":{"y":{"datum":0,"type":"quantitative"}}},
      {"data":{"values":[{"g":"WT Liver"}]},"mark":{"type":"text","text":"WT","align":"right","baseline":"bottom","dx":-4,"dy":-1,"fontSize":10,"fontWeight":"bold","color":"#000"},"encoding":{"x":{"field":"g","type":"nominal","bandPosition":1,"axis":null},"y":{"datum":5,"type":"quantitative"}}},
      {"data":{"values":[{"g":"KO Liver"}]},"mark":{"type":"text","text":"Ido1ᴷᴼ","align":"right","baseline":"bottom","dy":-1,"fontSize":10,"fontWeight":"bold","color":"#000"},"encoding":{"x":{"field":"g","type":"nominal","bandPosition":1,"axis":null},"y":{"datum":5,"type":"quantitative"}}}]},
    {"width":181,"height":22,"data":{"name":"sr"},"encoding":{"x":{"field":"g","type":"nominal","scale":{"domain":["WT PFC","WT Stri","WT Hippo","WT Hypo","WT Liver","KO Liver"],"paddingInner":0,"paddingOuter":0},"axis":null}},
     "layer":[
      {"transform":[{"filter":"datum.c=='Ctrl'"}],"mark":{"type":"bar","width":{"band":0.9}},"encoding":{"y":{"datum":0.455,"type":"quantitative","scale":{"domain":[0,1]},"axis":null},"y2":{"datum":0.045},"fill":{"field":"g","type":"nominal","scale":{"domain":["WT Brain","WT Astrocyte","WT μglia","KO Brain","KO Astrocyte","WT PFC","WT Stri","WT Hippo","WT Hypo","WT Liver","KO Liver"],"range":["#e1e1e1","#ffffff","#ffffff","#e1e1e1","#ffffff","#e4e4e4","#e4e4e4","#e4e4e4","#e4e4e4","#c3c3c3","#c3c3c3"]},"legend":null}}},
      {"transform":[{"filter":"datum.c=='Ctrl'"}],"mark":{"type":"bar","width":{"band":0.85},"color":"#555"},"encoding":{"y":{"datum":0.56,"type":"quantitative","axis":null},"y2":{"datum":0.52}}},
      {"mark":{"type":"text","fontSize":7,"fontWeight":"bold","color":"#222"},"encoding":{"xOffset":{"field":"c","type":"nominal","scale":{"paddingInner":0.2,"paddingOuter":0.1}},"y":{"datum":0.74,"type":"quantitative","axis":null},"text":{"field":"c"}}},
      {"transform":[{"filter":"datum.c=='Ctrl'"}],"mark":{"type":"text","fontSize":7,"fontWeight":"bold","color":"#222"},"encoding":{"y":{"datum":0.24,"type":"quantitative","axis":null},"text":{"field":"t"}}}]}
   ],"spacing":0,"bounds":"flush"}
  ],"spacing":12.6,"bounds":"full"}
 ],"spacing":-3,"bounds":"full"},
 {"vconcat":[
  {"width":361,"height":13,"data":{"values":[{"l":"D","n":"Ido2-v6"}]},"encoding":{"x":{"datum":0,"type":"quantitative","scale":{"domain":[0,1]},"axis":null},"y":{"datum":0.5,"type":"quantitative","scale":{"domain":[0,1]},"axis":null}},
   "layer":[{"mark":{"type":"rect","color":"#c9ebc9"},"encoding":{"x":{"datum":-0.0776,"type":"quantitative","axis":null},"x2":{"datum":1},"y":{"datum":0,"type":"quantitative","axis":null},"y2":{"datum":1}}},{"mark":{"type":"point","shape":"circle","filled":true,"color":"white","opacity":1,"size":120},"encoding":{"x":{"datum":-0.0388,"type":"quantitative","axis":null}}},{"mark":{"type":"text","color":"#1f32d0","fontSize":11,"fontWeight":"bold","dx":-14},"encoding":{"text":{"field":"l"}}},{"mark":{"type":"text","align":"left","color":"#2e6e2e","fontSize":15,"fontWeight":"bold","fontStyle":"italic","dx":-4},"encoding":{"text":{"field":"n"}}}]},
  {"hconcat":[
   {"vconcat":[
    {"width":156,"height":95,"view":{"stroke":"#555"},"encoding":{"x":{"field":"g","type":"nominal","scale":{"domain":["WT Brain","WT Astrocyte","WT μglia","KO Brain","KO Astrocyte"],"paddingInner":0,"paddingOuter":0},"axis":null}},
     "layer":[
      {"data":{"values":[{"g":"KO Brain"},{"g":"KO Astrocyte"}]},"mark":{"type":"rect","color":"#f3f3f3"},"encoding":{"y":{"datum":0,"type":"quantitative","scale":{"domain":[0,2.5],"nice":false},"axis":{"labels":false,"title":"mRNA (fold of control)","titlePadding":18}},"y2":{"datum":2.5}}},
      {"data":{"name":"yl25"},"mark":{"type":"text","align":"right","baseline":"middle","dx":-5,"fontSize":8,"fontWeight":"bold","fill":"#111"},"encoding":{"x":{"field":"g","type":"nominal","bandPosition":0,"axis":null},"y":{"field":"t","type":"quantitative"},"text":{"field":"t","type":"quantitative","format":".1f"}}},
      {"data":{"values":[{"g":"KO Brain"}]},"mark":{"type":"rule","color":"#555"},"encoding":{"x":{"field":"g","type":"nominal","bandPosition":0,"axis":null},"y":{"datum":0,"type":"quantitative"},"y2":{"datum":2.5}}},
      {"data":{"name":"d1"},"mark":{"type":"bar","stroke":"#333","strokeWidth":0.6},"encoding":{"xOffset":{"field":"c","type":"nominal","scale":{"paddingInner":0.2,"paddingOuter":0.1}},"y":{"field":"v","type":"quantitative"},"color":{"field":"g","type":"nominal","scale":{"domain":["WT Brain","WT Astrocyte","WT μglia","KO Brain","KO Astrocyte","WT PFC","WT Stri","WT Hippo","WT Hypo","WT Liver","KO Liver"],"range":["#b3b3b3","#d0202a","#3d6f70","#b3b3b3","#d0202a","#b3b3b3","#d0202a","#3d6f70","#3b7a1a","#6a6a6a","#b8b8b8"]},"legend":null}}},
      {"data":{"name":"d1"},"transform":[{"filter":"datum.c=='Res'"}],"mark":{"type":"bar","fill":{"gradient":"linear","x1":0,"y1":0,"x2":1,"y2":0,"stops":[{"offset":0,"color":"rgba(0,0,0,0)"},{"offset":0.14,"color":"rgba(0,0,0,0)"},{"offset":0.14,"color":"rgba(0,0,0,0.35)"},{"offset":0.25,"color":"rgba(0,0,0,0.35)"},{"offset":0.25,"color":"rgba(0,0,0,0)"},{"offset":0.39,"color":"rgba(0,0,0,0)"},{"offset":0.39,"color":"rgba(0,0,0,0.35)"},{"offset":0.5,"color":"rgba(0,0,0,0.35)"},{"offset":0.5,"color":"rgba(0,0,0,0)"},{"offset":0.64,"color":"rgba(0,0,0,0)"},{"offset":0.64,"color":"rgba(0,0,0,0.35)"},{"offset":0.75,"color":"rgba(0,0,0,0.35)"},{"offset":0.75,"color":"rgba(0,0,0,0)"},{"offset":0.89,"color":"rgba(0,0,0,0)"},{"offset":0.89,"color":"rgba(0,0,0,0.35)"},{"offset":1,"color":"rgba(0,0,0,0.35)"}]}},"encoding":{"xOffset":{"field":"c","type":"nominal"},"y":{"field":"v","type":"quantitative"}}},
      {"data":{"name":"d1"},"mark":{"type":"rule","color":"#8c8c8c"},"encoding":{"xOffset":{"field":"c","type":"nominal"},"y":{"field":"v","type":"quantitative"},"y2":{"field":"hi"}}},
      {"data":{"name":"d1"},"mark":{"type":"tick","color":"#8c8c8c","size":6,"thickness":1},"encoding":{"xOffset":{"field":"c","type":"nominal"},"y":{"field":"hi","type":"quantitative"}}},
      {"data":{"values":[{"g":"WT μglia"}]},"mark":{"type":"text","text":"WT","align":"right","baseline":"bottom","dx":-1.5,"dy":-1,"fontSize":10,"fontWeight":"bold","color":"#000"},"encoding":{"x":{"field":"g","type":"nominal","bandPosition":1,"axis":null},"y":{"datum":2.5,"type":"quantitative"}}},
      {"data":{"values":[{"g":"KO Astrocyte"}]},"mark":{"type":"text","text":"Ido1ᴷᴼ","align":"right","baseline":"bottom","dy":-1,"fontSize":10,"fontWeight":"bold","color":"#000"},"encoding":{"x":{"field":"g","type":"nominal","bandPosition":1,"axis":null},"y":{"datum":2.5,"type":"quantitative"}}}]},
    {"width":156,"height":22,"data":{"name":"sl"},"encoding":{"x":{"field":"g","type":"nominal","scale":{"domain":["WT Brain","WT Astrocyte","WT μglia","KO Brain","KO Astrocyte"],"paddingInner":0,"paddingOuter":0},"axis":null}},
     "layer":[
      {"transform":[{"filter":"datum.c=='Ctrl'"}],"mark":{"type":"bar","width":{"band":0.9}},"encoding":{"y":{"datum":0.455,"type":"quantitative","scale":{"domain":[0,1]},"axis":null},"y2":{"datum":0.045},"fill":{"field":"g","type":"nominal","scale":{"domain":["WT Brain","WT Astrocyte","WT μglia","KO Brain","KO Astrocyte","WT PFC","WT Stri","WT Hippo","WT Hypo","WT Liver","KO Liver"],"range":["#e1e1e1","#ffffff","#ffffff","#e1e1e1","#ffffff","#e4e4e4","#e4e4e4","#e4e4e4","#e4e4e4","#c3c3c3","#c3c3c3"]},"legend":null}}},
      {"transform":[{"filter":"datum.c=='Ctrl'"}],"mark":{"type":"bar","width":{"band":0.85},"color":"#555"},"encoding":{"y":{"datum":0.56,"type":"quantitative","axis":null},"y2":{"datum":0.52}}},
      {"mark":{"type":"text","fontSize":7,"fontWeight":"bold","color":"#222"},"encoding":{"xOffset":{"field":"c","type":"nominal","scale":{"paddingInner":0.2,"paddingOuter":0.1}},"y":{"datum":0.74,"type":"quantitative","axis":null},"text":{"field":"c"}}},
      {"transform":[{"filter":"datum.c=='Ctrl'"}],"mark":{"type":"text","fontSize":7,"fontWeight":"bold","color":"#222"},"encoding":{"y":{"datum":0.24,"type":"quantitative","axis":null},"text":{"field":"t"}}}]}
   ],"spacing":0,"bounds":"flush"},
   {"vconcat":[
    {"width":181,"height":95,"view":{"stroke":"#555"},"encoding":{"x":{"field":"g","type":"nominal","scale":{"domain":["WT PFC","WT Stri","WT Hippo","WT Hypo","WT Liver","KO Liver"],"paddingInner":0,"paddingOuter":0},"axis":null}},
     "layer":[
      {"data":{"values":[{"g":"KO Liver"}]},"mark":{"type":"rect","color":"#f3f3f3"},"encoding":{"y":{"datum":0,"type":"quantitative","scale":{"domain":[0,2.5],"nice":false},"axis":{"labels":false,"title":null}},"y2":{"datum":2.5}}},
      {"data":{"name":"yr25"},"mark":{"type":"text","align":"right","baseline":"middle","dx":-5,"fontSize":8,"fontWeight":"bold","fill":"#111"},"encoding":{"x":{"field":"g","type":"nominal","bandPosition":0,"axis":null},"y":{"field":"t","type":"quantitative"},"text":{"field":"t","type":"quantitative","format":".1f"}}},
      {"data":{"values":[{"g":"KO Liver"}]},"mark":{"type":"rule","color":"#555"},"encoding":{"x":{"field":"g","type":"nominal","bandPosition":0,"axis":null},"y":{"datum":0,"type":"quantitative"},"y2":{"datum":2.5}}},
      {"data":{"name":"d2"},"mark":{"type":"bar","stroke":"#333","strokeWidth":0.6},"encoding":{"xOffset":{"field":"c","type":"nominal","scale":{"paddingInner":0.2,"paddingOuter":0.1}},"y":{"field":"v","type":"quantitative"},"color":{"field":"g","type":"nominal","scale":{"domain":["WT Brain","WT Astrocyte","WT μglia","KO Brain","KO Astrocyte","WT PFC","WT Stri","WT Hippo","WT Hypo","WT Liver","KO Liver"],"range":["#b3b3b3","#d0202a","#3d6f70","#b3b3b3","#d0202a","#b3b3b3","#d0202a","#3d6f70","#3b7a1a","#6a6a6a","#b8b8b8"]},"legend":null}}},
      {"data":{"name":"d2"},"transform":[{"filter":"datum.c=='Res'"}],"mark":{"type":"bar","fill":{"gradient":"linear","x1":0,"y1":0,"x2":1,"y2":0,"stops":[{"offset":0,"color":"rgba(0,0,0,0)"},{"offset":0.14,"color":"rgba(0,0,0,0)"},{"offset":0.14,"color":"rgba(0,0,0,0.35)"},{"offset":0.25,"color":"rgba(0,0,0,0.35)"},{"offset":0.25,"color":"rgba(0,0,0,0)"},{"offset":0.39,"color":"rgba(0,0,0,0)"},{"offset":0.39,"color":"rgba(0,0,0,0.35)"},{"offset":0.5,"color":"rgba(0,0,0,0.35)"},{"offset":0.5,"color":"rgba(0,0,0,0)"},{"offset":0.64,"color":"rgba(0,0,0,0)"},{"offset":0.64,"color":"rgba(0,0,0,0.35)"},{"offset":0.75,"color":"rgba(0,0,0,0.35)"},{"offset":0.75,"color":"rgba(0,0,0,0)"},{"offset":0.89,"color":"rgba(0,0,0,0)"},{"offset":0.89,"color":"rgba(0,0,0,0.35)"},{"offset":1,"color":"rgba(0,0,0,0.35)"}]}},"encoding":{"xOffset":{"field":"c","type":"nominal"},"y":{"field":"v","type":"quantitative"}}},
      {"data":{"name":"d2"},"mark":{"type":"rule","color":"#8c8c8c"},"encoding":{"xOffset":{"field":"c","type":"nominal"},"y":{"field":"v","type":"quantitative"},"y2":{"field":"hi"}}},
      {"data":{"name":"d2"},"mark":{"type":"tick","color":"#8c8c8c","size":6,"thickness":1},"encoding":{"xOffset":{"field":"c","type":"nominal"},"y":{"field":"hi","type":"quantitative"}}},
      {"data":{"values":[{"g":"WT Hypo","y":2.36,"s":"ϕ"}]},"mark":{"type":"text","fontSize":11,"font":"DejaVu Serif","baseline":"middle","fill":"#222"},"encoding":{"y":{"field":"y","type":"quantitative"},"text":{"field":"s"}}},
      {"data":{"values":[{"g":"WT Liver"},{"g":"KO Liver"}]},"mark":{"type":"text","text":["not","detected"],"fontSize":7.8,"baseline":"bottom","dy":-9.5,"lineHeight":8.5,"fill":"#333"},"encoding":{"y":{"datum":0,"type":"quantitative"}}},
      {"data":{"values":[{"g":"WT Liver"}]},"mark":{"type":"text","text":"WT","align":"right","baseline":"bottom","dx":-4,"dy":-1,"fontSize":10,"fontWeight":"bold","color":"#000"},"encoding":{"x":{"field":"g","type":"nominal","bandPosition":1,"axis":null},"y":{"datum":2.5,"type":"quantitative"}}},
      {"data":{"values":[{"g":"KO Liver"}]},"mark":{"type":"text","text":"Ido1ᴷᴼ","align":"right","baseline":"bottom","dy":-1,"fontSize":10,"fontWeight":"bold","color":"#000"},"encoding":{"x":{"field":"g","type":"nominal","bandPosition":1,"axis":null},"y":{"datum":2.5,"type":"quantitative"}}}]},
    {"width":181,"height":22,"data":{"name":"sr"},"encoding":{"x":{"field":"g","type":"nominal","scale":{"domain":["WT PFC","WT Stri","WT Hippo","WT Hypo","WT Liver","KO Liver"],"paddingInner":0,"paddingOuter":0},"axis":null}},
     "layer":[
      {"transform":[{"filter":"datum.c=='Ctrl'"}],"mark":{"type":"bar","width":{"band":0.9}},"encoding":{"y":{"datum":0.455,"type":"quantitative","scale":{"domain":[0,1]},"axis":null},"y2":{"datum":0.045},"fill":{"field":"g","type":"nominal","scale":{"domain":["WT Brain","WT Astrocyte","WT μglia","KO Brain","KO Astrocyte","WT PFC","WT Stri","WT Hippo","WT Hypo","WT Liver","KO Liver"],"range":["#e1e1e1","#ffffff","#ffffff","#e1e1e1","#ffffff","#e4e4e4","#e4e4e4","#e4e4e4","#e4e4e4","#c3c3c3","#c3c3c3"]},"legend":null}}},
      {"transform":[{"filter":"datum.c=='Ctrl'"}],"mark":{"type":"bar","width":{"band":0.85},"color":"#555"},"encoding":{"y":{"datum":0.56,"type":"quantitative","axis":null},"y2":{"datum":0.52}}},
      {"mark":{"type":"text","fontSize":7,"fontWeight":"bold","color":"#222"},"encoding":{"xOffset":{"field":"c","type":"nominal","scale":{"paddingInner":0.2,"paddingOuter":0.1}},"y":{"datum":0.74,"type":"quantitative","axis":null},"text":{"field":"c"}}},
      {"transform":[{"filter":"datum.c=='Ctrl'"}],"mark":{"type":"text","fontSize":7,"fontWeight":"bold","color":"#222"},"encoding":{"y":{"datum":0.24,"type":"quantitative","axis":null},"text":{"field":"t"}}}]}
   ],"spacing":0,"bounds":"flush"}
  ],"spacing":6,"bounds":"full"}
 ],"spacing":-3,"bounds":"full"}
],"spacing":7,"bounds":"full"},
{"hconcat":[
 {"vconcat":[
  {"width":362,"height":13,"data":{"values":[{"l":"E","n":"Ido2-v7"}]},"encoding":{"x":{"datum":0,"type":"quantitative","scale":{"domain":[0,1]},"axis":null},"y":{"datum":0.5,"type":"quantitative","scale":{"domain":[0,1]},"axis":null}},
   "layer":[{"mark":{"type":"rect","color":"#c9ebc9"},"encoding":{"x":{"datum":-0.0608,"type":"quantitative","axis":null},"x2":{"datum":1},"y":{"datum":0,"type":"quantitative","axis":null},"y2":{"datum":1}}},{"mark":{"type":"point","shape":"circle","filled":true,"color":"white","opacity":1,"size":120},"encoding":{"x":{"datum":-0.047,"type":"quantitative","axis":null}}},{"mark":{"type":"text","color":"#1f32d0","fontSize":11,"fontWeight":"bold","dx":-17},"encoding":{"text":{"field":"l"}}},{"mark":{"type":"text","align":"left","color":"#2e6e2e","fontSize":15,"fontWeight":"bold","fontStyle":"italic","dx":-6},"encoding":{"text":{"field":"n"}}}]},
  {"hconcat":[
   {"vconcat":[
    {"width":152,"height":95,"view":{"stroke":"#555"},"encoding":{"x":{"field":"g","type":"nominal","scale":{"domain":["WT Brain","WT Astrocyte","WT μglia","KO Brain","KO Astrocyte"],"paddingInner":0,"paddingOuter":0},"axis":null}},
     "layer":[
      {"data":{"values":[{"g":"KO Brain"},{"g":"KO Astrocyte"}]},"mark":{"type":"rect","color":"#f3f3f3"},"encoding":{"y":{"datum":0,"type":"quantitative","scale":{"domain":[0,6],"nice":false},"axis":{"labels":false,"title":"mRNA (fold of control)","titlePadding":12.5}},"y2":{"datum":6}}},
      {"data":{"name":"yl6"},"mark":{"type":"text","align":"right","baseline":"middle","dx":-5,"fontSize":8,"fontWeight":"bold","fill":"#111"},"encoding":{"x":{"field":"g","type":"nominal","bandPosition":0,"axis":null},"y":{"field":"t","type":"quantitative"},"text":{"field":"t","type":"quantitative"}}},
      {"data":{"values":[{"g":"KO Brain"}]},"mark":{"type":"rule","color":"#555"},"encoding":{"x":{"field":"g","type":"nominal","bandPosition":0,"axis":null},"y":{"datum":0,"type":"quantitative"},"y2":{"datum":6}}},
      {"data":{"name":"e1"},"mark":{"type":"bar","stroke":"#333","strokeWidth":0.6},"encoding":{"xOffset":{"field":"c","type":"nominal","scale":{"paddingInner":0.2,"paddingOuter":0.1}},"y":{"field":"v","type":"quantitative"},"color":{"field":"g","type":"nominal","scale":{"domain":["WT Brain","WT Astrocyte","WT μglia","KO Brain","KO Astrocyte","WT PFC","WT Stri","WT Hippo","WT Hypo","WT Liver","KO Liver"],"range":["#b3b3b3","#d0202a","#3d6f70","#b3b3b3","#d0202a","#b3b3b3","#d0202a","#3d6f70","#3b7a1a","#6a6a6a","#b8b8b8"]},"legend":null}}},
      {"data":{"name":"e1"},"transform":[{"filter":"datum.c=='Res'"}],"mark":{"type":"bar","fill":{"gradient":"linear","x1":0,"y1":0,"x2":1,"y2":0,"stops":[{"offset":0,"color":"rgba(0,0,0,0)"},{"offset":0.14,"color":"rgba(0,0,0,0)"},{"offset":0.14,"color":"rgba(0,0,0,0.35)"},{"offset":0.25,"color":"rgba(0,0,0,0.35)"},{"offset":0.25,"color":"rgba(0,0,0,0)"},{"offset":0.39,"color":"rgba(0,0,0,0)"},{"offset":0.39,"color":"rgba(0,0,0,0.35)"},{"offset":0.5,"color":"rgba(0,0,0,0.35)"},{"offset":0.5,"color":"rgba(0,0,0,0)"},{"offset":0.64,"color":"rgba(0,0,0,0)"},{"offset":0.64,"color":"rgba(0,0,0,0.35)"},{"offset":0.75,"color":"rgba(0,0,0,0.35)"},{"offset":0.75,"color":"rgba(0,0,0,0)"},{"offset":0.89,"color":"rgba(0,0,0,0)"},{"offset":0.89,"color":"rgba(0,0,0,0.35)"},{"offset":1,"color":"rgba(0,0,0,0.35)"}]}},"encoding":{"xOffset":{"field":"c","type":"nominal"},"y":{"field":"v","type":"quantitative"}}},
      {"data":{"name":"e1"},"mark":{"type":"rule","color":"#8c8c8c"},"encoding":{"xOffset":{"field":"c","type":"nominal"},"y":{"field":"v","type":"quantitative"},"y2":{"field":"hi"}}},
      {"data":{"name":"e1"},"mark":{"type":"tick","color":"#8c8c8c","size":6,"thickness":1},"encoding":{"xOffset":{"field":"c","type":"nominal"},"y":{"field":"hi","type":"quantitative"}}},
      {"data":{"values":[{"g":"KO Astrocyte"}]},"mark":{"type":"text","text":["not","detected"],"fontSize":7.8,"baseline":"bottom","dy":-9.5,"lineHeight":8.5,"fill":"#333"},"encoding":{"x":{"field":"g","type":"nominal","bandPosition":0,"axis":null},"y":{"datum":0,"type":"quantitative"}}},
      {"data":{"values":[{"g":"WT μglia"}]},"mark":{"type":"text","text":"WT","align":"right","baseline":"bottom","dx":-1.5,"dy":-1,"fontSize":10,"fontWeight":"bold","color":"#000"},"encoding":{"x":{"field":"g","type":"nominal","bandPosition":1,"axis":null},"y":{"datum":6,"type":"quantitative"}}},
      {"data":{"values":[{"g":"KO Astrocyte"}]},"mark":{"type":"text","text":"Ido1ᴷᴼ","align":"right","baseline":"bottom","dy":-1,"fontSize":10,"fontWeight":"bold","color":"#000"},"encoding":{"x":{"field":"g","type":"nominal","bandPosition":1,"axis":null},"y":{"datum":6,"type":"quantitative"}}}]},
    {"width":152,"height":22,"data":{"name":"sl"},"encoding":{"x":{"field":"g","type":"nominal","scale":{"domain":["WT Brain","WT Astrocyte","WT μglia","KO Brain","KO Astrocyte"],"paddingInner":0,"paddingOuter":0},"axis":null}},
     "layer":[
      {"transform":[{"filter":"datum.c=='Ctrl'"}],"mark":{"type":"bar","width":{"band":0.9}},"encoding":{"y":{"datum":0.455,"type":"quantitative","scale":{"domain":[0,1]},"axis":null},"y2":{"datum":0.045},"fill":{"field":"g","type":"nominal","scale":{"domain":["WT Brain","WT Astrocyte","WT μglia","KO Brain","KO Astrocyte","WT PFC","WT Stri","WT Hippo","WT Hypo","WT Liver","KO Liver"],"range":["#e1e1e1","#ffffff","#ffffff","#e1e1e1","#ffffff","#e4e4e4","#e4e4e4","#e4e4e4","#e4e4e4","#c3c3c3","#c3c3c3"]},"legend":null}}},
      {"transform":[{"filter":"datum.c=='Ctrl'"}],"mark":{"type":"bar","width":{"band":0.85},"color":"#555"},"encoding":{"y":{"datum":0.56,"type":"quantitative","axis":null},"y2":{"datum":0.52}}},
      {"mark":{"type":"text","fontSize":7,"fontWeight":"bold","color":"#222"},"encoding":{"xOffset":{"field":"c","type":"nominal","scale":{"paddingInner":0.2,"paddingOuter":0.1}},"y":{"datum":0.74,"type":"quantitative","axis":null},"text":{"field":"c"}}},
      {"transform":[{"filter":"datum.c=='Ctrl'"}],"mark":{"type":"text","fontSize":7,"fontWeight":"bold","color":"#222"},"encoding":{"y":{"datum":0.24,"type":"quantitative","axis":null},"text":{"field":"t"}}}]}
   ],"spacing":0,"bounds":"flush"},
   {"vconcat":[
    {"width":181,"height":95,"view":{"stroke":"#555"},"encoding":{"x":{"field":"g","type":"nominal","scale":{"domain":["WT PFC","WT Stri","WT Hippo","WT Hypo","WT Liver","KO Liver"],"paddingInner":0,"paddingOuter":0},"axis":null}},
     "layer":[
      {"data":{"values":[{"g":"KO Liver"}]},"mark":{"type":"rect","color":"#f3f3f3"},"encoding":{"y":{"datum":0,"type":"quantitative","scale":{"domain":[0,6],"nice":false},"axis":{"labels":false,"title":null}},"y2":{"datum":6}}},
      {"data":{"name":"yr6"},"mark":{"type":"text","align":"right","baseline":"middle","dx":-5,"fontSize":8,"fontWeight":"bold","fill":"#111"},"encoding":{"x":{"field":"g","type":"nominal","bandPosition":0,"axis":null},"y":{"field":"t","type":"quantitative"},"text":{"field":"t","type":"quantitative"}}},
      {"data":{"values":[{"g":"KO Liver"}]},"mark":{"type":"rule","color":"#555"},"encoding":{"x":{"field":"g","type":"nominal","bandPosition":0,"axis":null},"y":{"datum":0,"type":"quantitative"},"y2":{"datum":6}}},
      {"data":{"name":"e2"},"mark":{"type":"bar","stroke":"#333","strokeWidth":0.6},"encoding":{"xOffset":{"field":"c","type":"nominal","scale":{"paddingInner":0.2,"paddingOuter":0.1}},"y":{"field":"v","type":"quantitative"},"color":{"field":"g","type":"nominal","scale":{"domain":["WT Brain","WT Astrocyte","WT μglia","KO Brain","KO Astrocyte","WT PFC","WT Stri","WT Hippo","WT Hypo","WT Liver","KO Liver"],"range":["#b3b3b3","#d0202a","#3d6f70","#b3b3b3","#d0202a","#b3b3b3","#d0202a","#3d6f70","#3b7a1a","#6a6a6a","#b8b8b8"]},"legend":null}}},
      {"data":{"name":"e2"},"transform":[{"filter":"datum.c=='Res'"}],"mark":{"type":"bar","fill":{"gradient":"linear","x1":0,"y1":0,"x2":1,"y2":0,"stops":[{"offset":0,"color":"rgba(0,0,0,0)"},{"offset":0.14,"color":"rgba(0,0,0,0)"},{"offset":0.14,"color":"rgba(0,0,0,0.35)"},{"offset":0.25,"color":"rgba(0,0,0,0.35)"},{"offset":0.25,"color":"rgba(0,0,0,0)"},{"offset":0.39,"color":"rgba(0,0,0,0)"},{"offset":0.39,"color":"rgba(0,0,0,0.35)"},{"offset":0.5,"color":"rgba(0,0,0,0.35)"},{"offset":0.5,"color":"rgba(0,0,0,0)"},{"offset":0.64,"color":"rgba(0,0,0,0)"},{"offset":0.64,"color":"rgba(0,0,0,0.35)"},{"offset":0.75,"color":"rgba(0,0,0,0.35)"},{"offset":0.75,"color":"rgba(0,0,0,0)"},{"offset":0.89,"color":"rgba(0,0,0,0)"},{"offset":0.89,"color":"rgba(0,0,0,0.35)"},{"offset":1,"color":"rgba(0,0,0,0.35)"}]}},"encoding":{"xOffset":{"field":"c","type":"nominal"},"y":{"field":"v","type":"quantitative"}}},
      {"data":{"name":"e2"},"mark":{"type":"rule","color":"#8c8c8c"},"encoding":{"xOffset":{"field":"c","type":"nominal"},"y":{"field":"v","type":"quantitative"},"y2":{"field":"hi"}}},
      {"data":{"name":"e2"},"mark":{"type":"tick","color":"#8c8c8c","size":6,"thickness":1},"encoding":{"xOffset":{"field":"c","type":"nominal"},"y":{"field":"hi","type":"quantitative"}}},
      {"data":{"values":[{"g":"WT Liver","y":5.56,"s":"δ"}]},"mark":{"type":"text","fontSize":11,"font":"DejaVu Serif","baseline":"middle","dx":-3,"fill":"#222"},"encoding":{"y":{"field":"y","type":"quantitative"},"text":{"field":"s"}}},
      {"data":{"values":[{"g":"WT Liver"}]},"mark":{"type":"text","text":"WT","align":"right","baseline":"bottom","dx":-4,"dy":-1,"fontSize":10,"fontWeight":"bold","color":"#000"},"encoding":{"x":{"field":"g","type":"nominal","bandPosition":1,"axis":null},"y":{"datum":6,"type":"quantitative"}}},
      {"data":{"values":[{"g":"KO Liver"}]},"mark":{"type":"text","text":"Ido1ᴷᴼ","align":"right","baseline":"bottom","dy":-1,"fontSize":10,"fontWeight":"bold","color":"#000"},"encoding":{"x":{"field":"g","type":"nominal","bandPosition":1,"axis":null},"y":{"datum":6,"type":"quantitative"}}}]},
    {"width":181,"height":22,"data":{"name":"sr"},"encoding":{"x":{"field":"g","type":"nominal","scale":{"domain":["WT PFC","WT Stri","WT Hippo","WT Hypo","WT Liver","KO Liver"],"paddingInner":0,"paddingOuter":0},"axis":null}},
     "layer":[
      {"transform":[{"filter":"datum.c=='Ctrl'"}],"mark":{"type":"bar","width":{"band":0.9}},"encoding":{"y":{"datum":0.455,"type":"quantitative","scale":{"domain":[0,1]},"axis":null},"y2":{"datum":0.045},"fill":{"field":"g","type":"nominal","scale":{"domain":["WT Brain","WT Astrocyte","WT μglia","KO Brain","KO Astrocyte","WT PFC","WT Stri","WT Hippo","WT Hypo","WT Liver","KO Liver"],"range":["#e1e1e1","#ffffff","#ffffff","#e1e1e1","#ffffff","#e4e4e4","#e4e4e4","#e4e4e4","#e4e4e4","#c3c3c3","#c3c3c3"]},"legend":null}}},
      {"transform":[{"filter":"datum.c=='Ctrl'"}],"mark":{"type":"bar","width":{"band":0.85},"color":"#555"},"encoding":{"y":{"datum":0.56,"type":"quantitative","axis":null},"y2":{"datum":0.52}}},
      {"mark":{"type":"text","fontSize":7,"fontWeight":"bold","color":"#222"},"encoding":{"xOffset":{"field":"c","type":"nominal","scale":{"paddingInner":0.2,"paddingOuter":0.1}},"y":{"datum":0.74,"type":"quantitative","axis":null},"text":{"field":"c"}}},
      {"transform":[{"filter":"datum.c=='Ctrl'"}],"mark":{"type":"text","fontSize":7,"fontWeight":"bold","color":"#222"},"encoding":{"y":{"datum":0.24,"type":"quantitative","axis":null},"text":{"field":"t"}}}]}
   ],"spacing":0,"bounds":"flush"}
  ],"spacing":12.6,"bounds":"full"}
 ],"spacing":-3,"bounds":"full"},
 {"vconcat":[
  {"width":358,"height":13,"data":{"values":[{"l":"F","n":"Ido2-v8"}]},"encoding":{"x":{"datum":0,"type":"quantitative","scale":{"domain":[0,1]},"axis":null},"y":{"datum":0.5,"type":"quantitative","scale":{"domain":[0,1]},"axis":null}},
   "layer":[{"mark":{"type":"rect","color":"#c9ebc9"},"encoding":{"x":{"datum":-0.0866,"type":"quantitative","axis":null},"x2":{"datum":1},"y":{"datum":0,"type":"quantitative","axis":null},"y2":{"datum":1}}},{"mark":{"type":"point","shape":"circle","filled":true,"color":"white","opacity":1,"size":120},"encoding":{"x":{"datum":-0.0475,"type":"quantitative","axis":null}}},{"mark":{"type":"text","color":"#1f32d0","fontSize":11,"fontWeight":"bold","dx":-17},"encoding":{"text":{"field":"l"}}},{"mark":{"type":"text","align":"left","color":"#2e6e2e","fontSize":15,"fontWeight":"bold","fontStyle":"italic","dx":-7},"encoding":{"text":{"field":"n"}}}]},
  {"hconcat":[
   {"vconcat":[
    {"width":153,"height":95,"view":{"stroke":"#555"},"encoding":{"x":{"field":"g","type":"nominal","scale":{"domain":["WT Brain","WT Astrocyte","WT μglia","KO Brain","KO Astrocyte"],"paddingInner":0,"paddingOuter":0},"axis":null}},
     "layer":[
      {"data":{"values":[{"g":"KO Brain"},{"g":"KO Astrocyte"}]},"mark":{"type":"rect","color":"#f3f3f3"},"encoding":{"y":{"datum":0,"type":"quantitative","scale":{"domain":[0,5],"nice":false},"axis":{"labels":false,"title":"mRNA (fold of control)","titlePadding":20.5}},"y2":{"datum":5}}},
      {"data":{"name":"yl5"},"mark":{"type":"text","align":"right","baseline":"middle","dx":-5,"fontSize":8,"fontWeight":"bold","fill":"#111"},"encoding":{"x":{"field":"g","type":"nominal","bandPosition":0,"axis":null},"y":{"field":"t","type":"quantitative"},"text":{"field":"t","type":"quantitative"}}},
      {"data":{"values":[{"g":"KO Brain"}]},"mark":{"type":"rule","color":"#555"},"encoding":{"x":{"field":"g","type":"nominal","bandPosition":0,"axis":null},"y":{"datum":0,"type":"quantitative"},"y2":{"datum":5}}},
      {"data":{"values":[{"g":"WT Astrocyte"}]},"mark":{"type":"text","text":["not","detected"],"fontSize":7.8,"baseline":"bottom","dy":-9.5,"lineHeight":8.5,"fill":"#333"},"encoding":{"y":{"datum":0,"type":"quantitative"}}},
      {"data":{"values":[{"g":"KO Astrocyte"}]},"mark":{"type":"text","text":["not","detected"],"fontSize":7.8,"baseline":"bottom","dy":-9.5,"lineHeight":8.5,"fill":"#333"},"encoding":{"x":{"field":"g","type":"nominal","bandPosition":0,"axis":null},"y":{"datum":0,"type":"quantitative"}}},
      {"data":{"values":[{"g":"WT μglia"}]},"mark":{"type":"text","text":"WT","align":"right","baseline":"bottom","dx":-1.5,"dy":-1,"fontSize":10,"fontWeight":"bold","color":"#000"},"encoding":{"x":{"field":"g","type":"nominal","bandPosition":1,"axis":null},"y":{"datum":5,"type":"quantitative"}}},
      {"data":{"values":[{"g":"KO Astrocyte"}]},"mark":{"type":"text","text":"Ido1ᴷᴼ","align":"right","baseline":"bottom","dy":-1,"fontSize":10,"fontWeight":"bold","color":"#000"},"encoding":{"x":{"field":"g","type":"nominal","bandPosition":1,"axis":null},"y":{"datum":5,"type":"quantitative"}}}]},
    {"width":153,"height":22,"data":{"name":"sl"},"encoding":{"x":{"field":"g","type":"nominal","scale":{"domain":["WT Brain","WT Astrocyte","WT μglia","KO Brain","KO Astrocyte"],"paddingInner":0,"paddingOuter":0},"axis":null}},
     "layer":[
      {"transform":[{"filter":"datum.c=='Ctrl'"}],"mark":{"type":"bar","width":{"band":0.9}},"encoding":{"y":{"datum":0.455,"type":"quantitative","scale":{"domain":[0,1]},"axis":null},"y2":{"datum":0.045},"fill":{"field":"g","type":"nominal","scale":{"domain":["WT Brain","WT Astrocyte","WT μglia","KO Brain","KO Astrocyte","WT PFC","WT Stri","WT Hippo","WT Hypo","WT Liver","KO Liver"],"range":["#e1e1e1","#ffffff","#ffffff","#e1e1e1","#ffffff","#e4e4e4","#e4e4e4","#e4e4e4","#e4e4e4","#c3c3c3","#c3c3c3"]},"legend":null}}},
      {"transform":[{"filter":"datum.c=='Ctrl'"}],"mark":{"type":"bar","width":{"band":0.85},"color":"#555"},"encoding":{"y":{"datum":0.56,"type":"quantitative","axis":null},"y2":{"datum":0.52}}},
      {"mark":{"type":"text","fontSize":7,"fontWeight":"bold","color":"#222"},"encoding":{"xOffset":{"field":"c","type":"nominal","scale":{"paddingInner":0.2,"paddingOuter":0.1}},"y":{"datum":0.74,"type":"quantitative","axis":null},"text":{"field":"c"}}},
      {"transform":[{"filter":"datum.c=='Ctrl'"}],"mark":{"type":"text","fontSize":7,"fontWeight":"bold","color":"#222"},"encoding":{"y":{"datum":0.24,"type":"quantitative","axis":null},"text":{"field":"t"}}}]}
   ],"spacing":0,"bounds":"flush"},
   {"vconcat":[
    {"width":181,"height":95,"view":{"stroke":"#555"},"encoding":{"x":{"field":"g","type":"nominal","scale":{"domain":["WT PFC","WT Stri","WT Hippo","WT Hypo","WT Liver","KO Liver"],"paddingInner":0,"paddingOuter":0},"axis":null}},
     "layer":[
      {"data":{"values":[{"g":"KO Liver"}]},"mark":{"type":"rect","color":"#f3f3f3"},"encoding":{"y":{"datum":0,"type":"quantitative","scale":{"domain":[0,400],"nice":false},"axis":{"labels":false,"title":null}},"y2":{"datum":400}}},
      {"data":{"name":"yr400"},"mark":{"type":"text","align":"right","baseline":"middle","dx":-5,"fontSize":8,"fontWeight":"bold","fill":"#111"},"encoding":{"x":{"field":"g","type":"nominal","bandPosition":0,"axis":null},"y":{"field":"t","type":"quantitative"},"text":{"field":"t","type":"quantitative"}}},
      {"data":{"values":[{"g":"KO Liver"}]},"mark":{"type":"rule","color":"#555"},"encoding":{"x":{"field":"g","type":"nominal","bandPosition":0,"axis":null},"y":{"datum":0,"type":"quantitative"},"y2":{"datum":400}}},
      {"data":{"name":"f2"},"mark":{"type":"bar","stroke":"#333","strokeWidth":0.6},"encoding":{"xOffset":{"field":"c","type":"nominal","scale":{"paddingInner":0.2,"paddingOuter":0.1}},"y":{"field":"v","type":"quantitative"},"color":{"field":"g","type":"nominal","scale":{"domain":["WT Brain","WT Astrocyte","WT μglia","KO Brain","KO Astrocyte","WT PFC","WT Stri","WT Hippo","WT Hypo","WT Liver","KO Liver"],"range":["#b3b3b3","#d0202a","#3d6f70","#b3b3b3","#d0202a","#b3b3b3","#d0202a","#3d6f70","#3b7a1a","#6a6a6a","#b8b8b8"]},"legend":null}}},
      {"data":{"name":"f2"},"transform":[{"filter":"datum.c=='Res'"}],"mark":{"type":"bar","fill":{"gradient":"linear","x1":0,"y1":0,"x2":1,"y2":0,"stops":[{"offset":0,"color":"rgba(0,0,0,0)"},{"offset":0.14,"color":"rgba(0,0,0,0)"},{"offset":0.14,"color":"rgba(0,0,0,0.35)"},{"offset":0.25,"color":"rgba(0,0,0,0.35)"},{"offset":0.25,"color":"rgba(0,0,0,0)"},{"offset":0.39,"color":"rgba(0,0,0,0)"},{"offset":0.39,"color":"rgba(0,0,0,0.35)"},{"offset":0.5,"color":"rgba(0,0,0,0.35)"},{"offset":0.5,"color":"rgba(0,0,0,0)"},{"offset":0.64,"color":"rgba(0,0,0,0)"},{"offset":0.64,"color":"rgba(0,0,0,0.35)"},{"offset":0.75,"color":"rgba(0,0,0,0.35)"},{"offset":0.75,"color":"rgba(0,0,0,0)"},{"offset":0.89,"color":"rgba(0,0,0,0)"},{"offset":0.89,"color":"rgba(0,0,0,0.35)"},{"offset":1,"color":"rgba(0,0,0,0.35)"}]}},"encoding":{"xOffset":{"field":"c","type":"nominal"},"y":{"field":"v","type":"quantitative"}}},
      {"data":{"name":"f2"},"mark":{"type":"rule","color":"#8c8c8c"},"encoding":{"xOffset":{"field":"c","type":"nominal"},"y":{"field":"v","type":"quantitative"},"y2":{"field":"hi"}}},
      {"data":{"name":"f2"},"mark":{"type":"tick","color":"#8c8c8c","size":6,"thickness":1},"encoding":{"xOffset":{"field":"c","type":"nominal"},"y":{"field":"hi","type":"quantitative"}}},
      {"data":{"values":[{"g":"WT Hippo"}]},"mark":{"type":"text","text":["not","detected"],"fontSize":7.8,"baseline":"bottom","dy":-9.5,"lineHeight":8.5,"fill":"#333"},"encoding":{"x":{"field":"g","type":"nominal","bandPosition":0,"axis":null},"y":{"datum":0,"type":"quantitative"}}},
      {"data":{"values":[{"g":"WT Liver"}]},"mark":{"type":"text","text":"WT","align":"right","baseline":"bottom","dx":-4,"dy":-1,"fontSize":10,"fontWeight":"bold","color":"#000"},"encoding":{"x":{"field":"g","type":"nominal","bandPosition":1,"axis":null},"y":{"datum":400,"type":"quantitative"}}},
      {"data":{"values":[{"g":"KO Liver"}]},"mark":{"type":"text","text":"Ido1ᴷᴼ","align":"right","baseline":"bottom","dy":-1,"fontSize":10,"fontWeight":"bold","color":"#000"},"encoding":{"x":{"field":"g","type":"nominal","bandPosition":1,"axis":null},"y":{"datum":400,"type":"quantitative"}}}]},
    {"width":181,"height":22,"data":{"name":"sr"},"encoding":{"x":{"field":"g","type":"nominal","scale":{"domain":["WT PFC","WT Stri","WT Hippo","WT Hypo","WT Liver","KO Liver"],"paddingInner":0,"paddingOuter":0},"axis":null}},
     "layer":[
      {"transform":[{"filter":"datum.c=='Ctrl'"}],"mark":{"type":"bar","width":{"band":0.9}},"encoding":{"y":{"datum":0.455,"type":"quantitative","scale":{"domain":[0,1]},"axis":null},"y2":{"datum":0.045},"fill":{"field":"g","type":"nominal","scale":{"domain":["WT Brain","WT Astrocyte","WT μglia","KO Brain","KO Astrocyte","WT PFC","WT Stri","WT Hippo","WT Hypo","WT Liver","KO Liver"],"range":["#e1e1e1","#ffffff","#ffffff","#e1e1e1","#ffffff","#e4e4e4","#e4e4e4","#e4e4e4","#e4e4e4","#c3c3c3","#c3c3c3"]},"legend":null}}},
      {"transform":[{"filter":"datum.c=='Ctrl'"}],"mark":{"type":"bar","width":{"band":0.85},"color":"#555"},"encoding":{"y":{"datum":0.56,"type":"quantitative","axis":null},"y2":{"datum":0.52}}},
      {"mark":{"type":"text","fontSize":7,"fontWeight":"bold","color":"#222"},"encoding":{"xOffset":{"field":"c","type":"nominal","scale":{"paddingInner":0.2,"paddingOuter":0.1}},"y":{"datum":0.74,"type":"quantitative","axis":null},"text":{"field":"c"}}},
      {"transform":[{"filter":"datum.c=='Ctrl'"}],"mark":{"type":"text","fontSize":7,"fontWeight":"bold","color":"#222"},"encoding":{"y":{"datum":0.24,"type":"quantitative","axis":null},"text":{"field":"t"}}}]}
   ],"spacing":0,"bounds":"flush"}
  ],"spacing":3.7,"bounds":"full"}
 ],"spacing":-3,"bounds":"full"}
],"spacing":7,"bounds":"full"}
]
}
